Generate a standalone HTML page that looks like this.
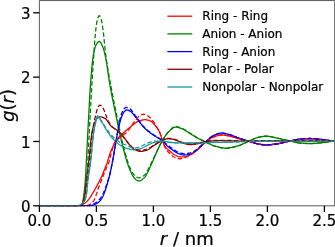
<!DOCTYPE html>
<html><head><meta charset="utf-8"><title>g(r)</title>
<style>html,body{margin:0;padding:0;background:#fff;overflow:hidden}body{width:335px;height:247px;position:relative}</style>
</head><body>
<svg width="335" height="247" viewBox="0 0 335 247" style="display:block;position:absolute;left:0;top:0">
<rect x="0" y="0" width="335" height="247" fill="#fff"/>
<clipPath id="c"><rect x="39.4" y="0" width="295.3" height="206.3"/></clipPath>
<path d="M39.4,0.55 H334.7 V205.8 H39.4 Z" stroke="#000" stroke-width="0.65" fill="none"/>
<g clip-path="url(#c)">
<path d="M39.40,205.80 L39.90,205.80 L40.40,205.80 L40.90,205.80 L41.39,205.80 L41.89,205.80 L42.39,205.80 L42.89,205.80 L43.39,205.80 L43.89,205.80 L44.38,205.80 L44.88,205.80 L45.38,205.80 L45.88,205.80 L46.38,205.80 L46.88,205.80 L47.38,205.80 L47.87,205.80 L48.37,205.80 L48.87,205.80 L49.37,205.80 L49.87,205.80 L50.37,205.80 L50.87,205.80 L51.36,205.80 L51.86,205.80 L52.36,205.80 L52.86,205.80 L53.36,205.80 L53.86,205.80 L54.35,205.80 L54.85,205.80 L55.35,205.80 L55.85,205.80 L56.35,205.80 L56.85,205.80 L57.35,205.80 L57.84,205.80 L58.34,205.80 L58.84,205.80 L59.34,205.80 L59.84,205.80 L60.34,205.80 L60.84,205.80 L61.33,205.80 L61.83,205.80 L62.33,205.80 L62.83,205.80 L63.33,205.80 L63.83,205.80 L64.32,205.80 L64.82,205.80 L65.32,205.80 L65.82,205.80 L66.32,205.80 L66.82,205.80 L67.32,205.80 L67.81,205.80 L68.31,205.80 L68.81,205.80 L69.31,205.80 L69.81,205.80 L70.31,205.80 L70.81,205.80 L71.30,205.80 L71.80,205.80 L72.30,205.80 L72.80,205.80 L73.30,205.80 L73.80,205.80 L74.29,205.80 L74.79,205.80 L75.29,205.80 L75.79,205.80 L76.29,205.80 L76.79,205.80 L77.29,205.80 L77.78,205.80 L78.28,205.80 L78.78,205.80 L79.28,205.79 L79.78,205.70 L80.28,205.56 L80.78,205.38 L81.27,205.19 L81.77,204.98 L82.27,204.71 L82.77,204.39 L83.27,204.06 L83.77,203.72 L84.26,203.39 L84.76,203.05 L85.26,202.69 L85.76,202.32 L86.26,201.92 L86.76,201.50 L87.26,201.04 L87.75,200.54 L88.25,199.96 L88.75,199.33 L89.25,198.64 L89.75,197.90 L90.25,197.14 L90.75,196.34 L91.24,195.54 L91.74,194.72 L92.24,193.92 L92.74,193.12 L93.24,192.30 L93.74,191.47 L94.23,190.63 L94.73,189.76 L95.23,188.89 L95.73,188.00 L96.23,187.09 L96.73,186.18 L97.23,185.26 L97.72,184.33 L98.22,183.40 L98.72,182.46 L99.22,181.51 L99.72,180.54 L100.22,179.56 L100.72,178.54 L101.21,177.50 L101.71,176.42 L102.21,175.29 L102.71,174.08 L103.21,172.82 L103.71,171.54 L104.20,170.25 L104.70,168.99 L105.20,167.77 L105.70,166.55 L106.20,165.31 L106.70,164.02 L107.20,162.65 L107.69,161.14 L108.19,159.46 L108.69,157.71 L109.19,155.99 L109.69,154.39 L110.19,153.00 L110.69,151.71 L111.18,150.47 L111.68,149.28 L112.18,148.16 L112.68,147.08 L113.18,146.06 L113.68,145.10 L114.17,144.19 L114.67,143.30 L115.17,142.45 L115.67,141.63 L116.17,140.84 L116.67,140.08 L117.17,139.36 L117.66,138.67 L118.16,138.01 L118.66,137.40 L119.16,136.82 L119.66,136.27 L120.16,135.76 L120.66,135.27 L121.15,134.80 L121.65,134.35 L122.15,133.91 L122.65,133.49 L123.15,133.07 L123.65,132.65 L124.14,132.23 L124.64,131.81 L125.14,131.38 L125.64,130.94 L126.14,130.51 L126.64,130.08 L127.14,129.66 L127.63,129.24 L128.13,128.82 L128.63,128.40 L129.13,127.99 L129.63,127.59 L130.13,127.19 L130.63,126.79 L131.12,126.40 L131.62,126.00 L132.12,125.59 L132.62,125.17 L133.12,124.75 L133.62,124.34 L134.11,123.93 L134.61,123.53 L135.11,123.15 L135.61,122.80 L136.11,122.47 L136.61,122.18 L137.11,121.92 L137.60,121.71 L138.10,121.51 L138.60,121.31 L139.10,121.11 L139.60,120.92 L140.10,120.74 L140.59,120.56 L141.09,120.40 L141.59,120.25 L142.09,120.11 L142.59,119.99 L143.09,119.89 L143.59,119.80 L144.08,119.74 L144.58,119.71 L145.08,119.70 L145.58,119.72 L146.08,119.77 L146.58,119.84 L147.08,119.93 L147.57,120.04 L148.07,120.17 L148.57,120.32 L149.07,120.48 L149.57,120.65 L150.07,120.84 L150.56,121.03 L151.06,121.27 L151.56,121.59 L152.06,121.99 L152.56,122.44 L153.06,122.94 L153.56,123.49 L154.05,124.07 L154.55,124.68 L155.05,125.30 L155.55,125.93 L156.05,126.56 L156.55,127.20 L157.05,127.87 L157.54,128.58 L158.04,129.34 L158.54,130.16 L159.04,131.05 L159.54,132.02 L160.04,133.08 L160.53,134.44 L161.03,136.10 L161.53,137.86 L162.03,139.54 L162.53,140.93 L163.03,142.20 L163.53,143.40 L164.02,144.51 L164.52,145.48 L165.02,146.28 L165.52,146.95 L166.02,147.57 L166.52,148.13 L167.02,148.64 L167.51,149.12 L168.01,149.57 L168.51,150.00 L169.01,150.42 L169.51,150.83 L170.01,151.26 L170.50,151.68 L171.00,152.11 L171.50,152.53 L172.00,152.95 L172.50,153.34 L173.00,153.73 L173.50,154.09 L173.99,154.42 L174.49,154.73 L174.99,155.00 L175.49,155.25 L175.99,155.51 L176.49,155.77 L176.99,156.02 L177.48,156.26 L177.98,156.47 L178.48,156.64 L178.98,156.78 L179.48,156.87 L179.98,156.90 L180.47,156.90 L180.97,156.90 L181.47,156.90 L181.97,156.90 L182.47,156.90 L182.97,156.90 L183.47,156.90 L183.96,156.90 L184.46,156.90 L184.96,156.90 L185.46,156.87 L185.96,156.79 L186.46,156.66 L186.96,156.48 L187.45,156.28 L187.95,156.04 L188.45,155.79 L188.95,155.54 L189.45,155.28 L189.95,155.03 L190.44,154.77 L190.94,154.49 L191.44,154.19 L191.94,153.87 L192.44,153.53 L192.94,153.17 L193.44,152.80 L193.93,152.42 L194.43,152.03 L194.93,151.64 L195.43,151.25 L195.93,150.85 L196.43,150.46 L196.93,150.06 L197.42,149.65 L197.92,149.22 L198.42,148.79 L198.92,148.35 L199.42,147.90 L199.92,147.45 L200.41,146.99 L200.91,146.53 L201.41,146.06 L201.91,145.59 L202.41,145.10 L202.91,144.58 L203.41,144.05 L203.90,143.51 L204.40,143.00 L204.90,142.51 L205.40,142.06 L205.90,141.67 L206.40,141.28 L206.90,140.90 L207.39,140.54 L207.89,140.18 L208.39,139.83 L208.89,139.49 L209.39,139.17 L209.89,138.86 L210.38,138.56 L210.88,138.28 L211.38,138.02 L211.88,137.78 L212.38,137.55 L212.88,137.35 L213.38,137.16 L213.87,136.96 L214.37,136.77 L214.87,136.58 L215.37,136.39 L215.87,136.21 L216.37,136.04 L216.87,135.87 L217.36,135.71 L217.86,135.56 L218.36,135.43 L218.86,135.31 L219.36,135.21 L219.86,135.13 L220.35,135.06 L220.85,135.02 L221.35,135.00 L221.85,135.00 L222.35,135.02 L222.85,135.05 L223.35,135.09 L223.84,135.14 L224.34,135.20 L224.84,135.27 L225.34,135.35 L225.84,135.43 L226.34,135.51 L226.84,135.60 L227.33,135.69 L227.83,135.79 L228.33,135.88 L228.83,135.97 L229.33,136.06 L229.83,136.16 L230.32,136.27 L230.82,136.39 L231.32,136.52 L231.82,136.66 L232.32,136.80 L232.82,136.94 L233.32,137.09 L233.81,137.25 L234.31,137.40 L234.81,137.56 L235.31,137.71 L235.81,137.86 L236.31,138.02 L236.81,138.16 L237.30,138.31 L237.80,138.45 L238.30,138.58 L238.80,138.71 L239.30,138.84 L239.80,138.97 L240.29,139.10 L240.79,139.23 L241.29,139.35 L241.79,139.48 L242.29,139.60 L242.79,139.73 L243.29,139.85 L243.78,139.98 L244.28,140.10 L244.78,140.23 L245.28,140.35 L245.78,140.48 L246.28,140.61 L246.77,140.74 L247.27,140.86 L247.77,140.99 L248.27,141.12 L248.77,141.26 L249.27,141.39 L249.77,141.53 L250.26,141.68 L250.76,141.83 L251.26,141.98 L251.76,142.14 L252.26,142.29 L252.76,142.45 L253.26,142.60 L253.75,142.75 L254.25,142.90 L254.75,143.04 L255.25,143.18 L255.75,143.31 L256.25,143.44 L256.74,143.55 L257.24,143.66 L257.74,143.75 L258.24,143.84 L258.74,143.93 L259.24,144.02 L259.74,144.10 L260.23,144.19 L260.73,144.27 L261.23,144.35 L261.73,144.43 L262.23,144.50 L262.73,144.57 L263.23,144.63 L263.72,144.68 L264.22,144.73 L264.72,144.76 L265.22,144.79 L265.72,144.80 L266.22,144.80 L266.71,144.79 L267.21,144.78 L267.71,144.76 L268.21,144.73 L268.71,144.70 L269.21,144.67 L269.71,144.63 L270.20,144.58 L270.70,144.53 L271.20,144.48 L271.70,144.43 L272.20,144.37 L272.70,144.31 L273.20,144.25 L273.69,144.19 L274.19,144.13 L274.69,144.06 L275.19,144.00 L275.69,143.94 L276.19,143.88 L276.68,143.81 L277.18,143.74 L277.68,143.66 L278.18,143.57 L278.68,143.48 L279.18,143.39 L279.68,143.29 L280.17,143.19 L280.67,143.08 L281.17,142.98 L281.67,142.87 L282.17,142.75 L282.67,142.64 L283.17,142.52 L283.66,142.40 L284.16,142.29 L284.66,142.17 L285.16,142.05 L285.66,141.93 L286.16,141.82 L286.65,141.70 L287.15,141.59 L287.65,141.48 L288.15,141.37 L288.65,141.27 L289.15,141.16 L289.65,141.07 L290.14,140.97 L290.64,140.88 L291.14,140.78 L291.64,140.68 L292.14,140.58 L292.64,140.48 L293.14,140.38 L293.63,140.28 L294.13,140.18 L294.63,140.09 L295.13,139.99 L295.63,139.90 L296.13,139.81 L296.62,139.72 L297.12,139.64 L297.62,139.57 L298.12,139.50 L298.62,139.44 L299.12,139.38 L299.62,139.33 L300.11,139.29 L300.61,139.25 L301.11,139.22 L301.61,139.18 L302.11,139.14 L302.61,139.11 L303.11,139.07 L303.60,139.04 L304.10,139.01 L304.60,138.98 L305.10,138.95 L305.60,138.92 L306.10,138.90 L306.59,138.88 L307.09,138.86 L307.59,138.84 L308.09,138.82 L308.59,138.81 L309.09,138.81 L309.59,138.80 L310.08,138.80 L310.58,138.80 L311.08,138.81 L311.58,138.83 L312.08,138.84 L312.58,138.87 L313.08,138.89 L313.57,138.92 L314.07,138.96 L314.57,138.99 L315.07,139.03 L315.57,139.07 L316.07,139.12 L316.56,139.16 L317.06,139.21 L317.56,139.26 L318.06,139.31 L318.56,139.36 L319.06,139.41 L319.56,139.46 L320.05,139.51 L320.55,139.56 L321.05,139.61 L321.55,139.66 L322.05,139.70 L322.55,139.75 L323.05,139.80 L323.54,139.86 L324.04,139.92 L324.54,139.97 L325.04,140.04 L325.54,140.10 L326.04,140.16 L326.53,140.23 L327.03,140.29 L327.53,140.36 L328.03,140.43 L328.53,140.49 L329.03,140.56 L329.53,140.63 L330.02,140.69 L330.52,140.76 L331.02,140.82 L331.52,140.88 L332.02,140.94 L332.52,141.00 L333.02,141.05 L333.51,141.10 L334.01,141.15 L334.51,141.20 L335.01,141.24 L335.51,141.29 L336.01,141.33 L336.50,141.38 L337.00,141.42 L337.50,141.46 L338.00,141.50" fill="none" stroke="#ff0000" stroke-width="1.3" stroke-linejoin="round"/>
<path d="M39.40,205.80 L39.90,205.80 L40.40,205.80 L40.90,205.80 L41.39,205.80 L41.89,205.80 L42.39,205.80 L42.89,205.80 L43.39,205.80 L43.89,205.80 L44.38,205.80 L44.88,205.80 L45.38,205.80 L45.88,205.80 L46.38,205.80 L46.88,205.80 L47.38,205.80 L47.87,205.80 L48.37,205.80 L48.87,205.80 L49.37,205.80 L49.87,205.80 L50.37,205.80 L50.87,205.80 L51.36,205.80 L51.86,205.80 L52.36,205.80 L52.86,205.80 L53.36,205.80 L53.86,205.80 L54.35,205.80 L54.85,205.80 L55.35,205.80 L55.85,205.80 L56.35,205.80 L56.85,205.80 L57.35,205.80 L57.84,205.80 L58.34,205.80 L58.84,205.80 L59.34,205.80 L59.84,205.80 L60.34,205.80 L60.84,205.80 L61.33,205.80 L61.83,205.80 L62.33,205.80 L62.83,205.80 L63.33,205.80 L63.83,205.80 L64.32,205.80 L64.82,205.80 L65.32,205.80 L65.82,205.80 L66.32,205.80 L66.82,205.80 L67.32,205.80 L67.81,205.80 L68.31,205.80 L68.81,205.80 L69.31,205.80 L69.81,205.80 L70.31,205.80 L70.81,205.80 L71.30,205.80 L71.80,205.80 L72.30,205.80 L72.80,205.80 L73.30,205.80 L73.80,205.80 L74.29,205.80 L74.79,205.80 L75.29,205.80 L75.79,205.80 L76.29,205.80 L76.79,205.80 L77.29,205.80 L77.78,205.80 L78.28,205.80 L78.78,205.79 L79.28,205.71 L79.78,205.57 L80.28,205.39 L80.78,205.15 L81.27,204.67 L81.77,203.96 L82.27,203.01 L82.77,201.61 L83.27,198.86 L83.77,195.27 L84.26,191.39 L84.76,186.72 L85.26,180.99 L85.76,173.26 L86.26,163.50 L86.76,153.28 L87.26,143.62 L87.75,133.81 L88.25,124.07 L88.75,114.66 L89.25,105.08 L89.75,95.79 L90.25,87.65 L90.75,80.95 L91.24,74.67 L91.74,68.87 L92.24,63.70 L92.74,59.31 L93.24,55.86 L93.74,53.14 L94.23,50.72 L94.73,48.61 L95.23,46.87 L95.73,45.54 L96.23,44.61 L96.73,43.79 L97.23,43.04 L97.72,42.40 L98.22,41.89 L98.72,41.55 L99.22,41.40 L99.72,41.53 L100.22,41.97 L100.72,42.67 L101.21,43.55 L101.71,44.56 L102.21,45.60 L102.71,46.70 L103.21,48.05 L103.71,49.65 L104.20,51.45 L104.70,53.42 L105.20,55.51 L105.70,57.87 L106.20,60.62 L106.70,63.68 L107.20,66.96 L107.69,70.37 L108.19,73.84 L108.69,77.27 L109.19,80.58 L109.69,83.70 L110.19,86.54 L110.69,89.26 L111.18,91.91 L111.68,94.50 L112.18,97.04 L112.68,99.53 L113.18,101.99 L113.68,104.42 L114.17,106.82 L114.67,109.22 L115.17,111.60 L115.67,113.99 L116.17,116.38 L116.67,118.79 L117.17,121.22 L117.66,123.64 L118.16,126.06 L118.66,128.47 L119.16,130.84 L119.66,133.18 L120.16,135.47 L120.66,137.71 L121.15,139.88 L121.65,141.98 L122.15,144.05 L122.65,146.07 L123.15,148.06 L123.65,149.99 L124.14,151.87 L124.64,153.69 L125.14,155.45 L125.64,157.16 L126.14,158.85 L126.64,160.52 L127.14,162.13 L127.63,163.68 L128.13,165.16 L128.63,166.55 L129.13,167.83 L129.63,169.04 L130.13,170.24 L130.63,171.42 L131.12,172.57 L131.62,173.66 L132.12,174.69 L132.62,175.63 L133.12,176.48 L133.62,177.21 L134.11,177.81 L134.61,178.30 L135.11,178.77 L135.61,179.22 L136.11,179.65 L136.61,180.03 L137.11,180.37 L137.60,180.64 L138.10,180.85 L138.60,180.97 L139.10,181.00 L139.60,180.94 L140.10,180.80 L140.59,180.60 L141.09,180.33 L141.59,180.01 L142.09,179.64 L142.59,179.24 L143.09,178.81 L143.59,178.36 L144.08,177.89 L144.58,177.42 L145.08,176.86 L145.58,176.18 L146.08,175.39 L146.58,174.52 L147.08,173.56 L147.57,172.54 L148.07,171.48 L148.57,170.39 L149.07,169.28 L149.57,168.16 L150.07,167.06 L150.56,165.99 L151.06,164.95 L151.56,163.88 L152.06,162.78 L152.56,161.65 L153.06,160.51 L153.56,159.35 L154.05,158.19 L154.55,157.02 L155.05,155.86 L155.55,154.71 L156.05,153.58 L156.55,152.48 L157.05,151.40 L157.54,150.34 L158.04,149.26 L158.54,148.19 L159.04,147.12 L159.54,146.06 L160.04,145.03 L160.53,144.02 L161.03,143.05 L161.53,142.11 L162.03,141.22 L162.53,140.39 L163.03,139.57 L163.53,138.76 L164.02,137.97 L164.52,137.19 L165.02,136.43 L165.52,135.70 L166.02,134.99 L166.52,134.31 L167.02,133.67 L167.51,133.06 L168.01,132.49 L168.51,131.97 L169.01,131.49 L169.51,131.03 L170.01,130.56 L170.50,130.10 L171.00,129.63 L171.50,129.19 L172.00,128.76 L172.50,128.37 L173.00,128.02 L173.50,127.71 L173.99,127.46 L174.49,127.26 L174.99,127.14 L175.49,127.10 L175.99,127.12 L176.49,127.16 L176.99,127.23 L177.48,127.33 L177.98,127.45 L178.48,127.58 L178.98,127.73 L179.48,127.89 L179.98,128.07 L180.47,128.24 L180.97,128.43 L181.47,128.61 L181.97,128.79 L182.47,128.98 L182.97,129.20 L183.47,129.43 L183.96,129.69 L184.46,129.97 L184.96,130.26 L185.46,130.57 L185.96,130.89 L186.46,131.21 L186.96,131.54 L187.45,131.87 L187.95,132.20 L188.45,132.53 L188.95,132.85 L189.45,133.16 L189.95,133.47 L190.44,133.77 L190.94,134.07 L191.44,134.37 L191.94,134.68 L192.44,134.99 L192.94,135.30 L193.44,135.61 L193.93,135.92 L194.43,136.23 L194.93,136.54 L195.43,136.84 L195.93,137.14 L196.43,137.43 L196.93,137.71 L197.42,137.99 L197.92,138.26 L198.42,138.52 L198.92,138.78 L199.42,139.03 L199.92,139.27 L200.41,139.51 L200.91,139.75 L201.41,139.98 L201.91,140.22 L202.41,140.45 L202.91,140.67 L203.41,140.90 L203.90,141.13 L204.40,141.35 L204.90,141.58 L205.40,141.81 L205.90,142.04 L206.40,142.28 L206.90,142.52 L207.39,142.77 L207.89,143.02 L208.39,143.27 L208.89,143.53 L209.39,143.78 L209.89,144.03 L210.38,144.28 L210.88,144.52 L211.38,144.75 L211.88,144.97 L212.38,145.19 L212.88,145.39 L213.38,145.58 L213.87,145.76 L214.37,145.92 L214.87,146.07 L215.37,146.20 L215.87,146.33 L216.37,146.46 L216.87,146.59 L217.36,146.72 L217.86,146.85 L218.36,146.97 L218.86,147.09 L219.36,147.21 L219.86,147.32 L220.35,147.43 L220.85,147.53 L221.35,147.63 L221.85,147.72 L222.35,147.80 L222.85,147.87 L223.35,147.93 L223.84,147.99 L224.34,148.03 L224.84,148.07 L225.34,148.09 L225.84,148.10 L226.34,148.10 L226.84,148.08 L227.33,148.05 L227.83,148.02 L228.33,147.97 L228.83,147.91 L229.33,147.84 L229.83,147.76 L230.32,147.68 L230.82,147.58 L231.32,147.48 L231.82,147.38 L232.32,147.27 L232.82,147.15 L233.32,147.03 L233.81,146.91 L234.31,146.79 L234.81,146.66 L235.31,146.53 L235.81,146.40 L236.31,146.28 L236.81,146.15 L237.30,146.02 L237.80,145.88 L238.30,145.73 L238.80,145.56 L239.30,145.39 L239.80,145.21 L240.29,145.01 L240.79,144.81 L241.29,144.60 L241.79,144.39 L242.29,144.17 L242.79,143.95 L243.29,143.72 L243.78,143.49 L244.28,143.26 L244.78,143.02 L245.28,142.79 L245.78,142.56 L246.28,142.33 L246.77,142.10 L247.27,141.88 L247.77,141.66 L248.27,141.45 L248.77,141.24 L249.27,141.03 L249.77,140.82 L250.26,140.59 L250.76,140.37 L251.26,140.13 L251.76,139.90 L252.26,139.67 L252.76,139.44 L253.26,139.21 L253.75,138.99 L254.25,138.77 L254.75,138.56 L255.25,138.36 L255.75,138.17 L256.25,137.99 L256.74,137.83 L257.24,137.69 L257.74,137.56 L258.24,137.45 L258.74,137.34 L259.24,137.23 L259.74,137.12 L260.23,137.01 L260.73,136.91 L261.23,136.81 L261.73,136.72 L262.23,136.63 L262.73,136.55 L263.23,136.48 L263.72,136.41 L264.22,136.36 L264.72,136.31 L265.22,136.28 L265.72,136.26 L266.22,136.25 L266.71,136.26 L267.21,136.28 L267.71,136.31 L268.21,136.36 L268.71,136.42 L269.21,136.49 L269.71,136.57 L270.20,136.66 L270.70,136.76 L271.20,136.86 L271.70,136.96 L272.20,137.07 L272.70,137.19 L273.20,137.30 L273.69,137.41 L274.19,137.52 L274.69,137.63 L275.19,137.74 L275.69,137.84 L276.19,137.94 L276.68,138.03 L277.18,138.13 L277.68,138.23 L278.18,138.34 L278.68,138.44 L279.18,138.55 L279.68,138.66 L280.17,138.77 L280.67,138.88 L281.17,139.00 L281.67,139.11 L282.17,139.22 L282.67,139.34 L283.17,139.45 L283.66,139.57 L284.16,139.69 L284.66,139.80 L285.16,139.92 L285.66,140.03 L286.16,140.15 L286.65,140.26 L287.15,140.38 L287.65,140.49 L288.15,140.60 L288.65,140.71 L289.15,140.82 L289.65,140.93 L290.14,141.03 L290.64,141.14 L291.14,141.25 L291.64,141.37 L292.14,141.48 L292.64,141.60 L293.14,141.72 L293.63,141.84 L294.13,141.96 L294.63,142.08 L295.13,142.19 L295.63,142.30 L296.13,142.41 L296.62,142.51 L297.12,142.61 L297.62,142.69 L298.12,142.78 L298.62,142.85 L299.12,142.91 L299.62,142.97 L300.11,143.01 L300.61,143.05 L301.11,143.09 L301.61,143.13 L302.11,143.16 L302.61,143.20 L303.11,143.23 L303.60,143.27 L304.10,143.30 L304.60,143.33 L305.10,143.36 L305.60,143.38 L306.10,143.41 L306.59,143.43 L307.09,143.45 L307.59,143.46 L308.09,143.48 L308.59,143.49 L309.09,143.49 L309.59,143.50 L310.08,143.50 L310.58,143.50 L311.08,143.49 L311.58,143.48 L312.08,143.46 L312.58,143.44 L313.08,143.42 L313.57,143.40 L314.07,143.37 L314.57,143.34 L315.07,143.30 L315.57,143.27 L316.07,143.23 L316.56,143.19 L317.06,143.15 L317.56,143.11 L318.06,143.06 L318.56,143.02 L319.06,142.97 L319.56,142.93 L320.05,142.88 L320.55,142.83 L321.05,142.79 L321.55,142.74 L322.05,142.70 L322.55,142.65 L323.05,142.59 L323.54,142.54 L324.04,142.47 L324.54,142.41 L325.04,142.34 L325.54,142.26 L326.04,142.19 L326.53,142.11 L327.03,142.04 L327.53,141.96 L328.03,141.88 L328.53,141.80 L329.03,141.72 L329.53,141.64 L330.02,141.56 L330.52,141.49 L331.02,141.41 L331.52,141.34 L332.02,141.28 L332.52,141.21 L333.02,141.15 L333.51,141.10 L334.01,141.05 L334.51,141.00 L335.01,140.95 L335.51,140.90 L336.01,140.86 L336.50,140.82 L337.00,140.78 L337.50,140.74 L338.00,140.70" fill="none" stroke="#008000" stroke-width="1.3" stroke-linejoin="round"/>
<path d="M39.40,205.80 L39.90,205.80 L40.40,205.80 L40.90,205.80 L41.39,205.80 L41.89,205.80 L42.39,205.80 L42.89,205.80 L43.39,205.80 L43.89,205.80 L44.38,205.80 L44.88,205.80 L45.38,205.80 L45.88,205.80 L46.38,205.80 L46.88,205.80 L47.38,205.80 L47.87,205.80 L48.37,205.80 L48.87,205.80 L49.37,205.80 L49.87,205.80 L50.37,205.80 L50.87,205.80 L51.36,205.80 L51.86,205.80 L52.36,205.80 L52.86,205.80 L53.36,205.80 L53.86,205.80 L54.35,205.80 L54.85,205.80 L55.35,205.80 L55.85,205.80 L56.35,205.80 L56.85,205.80 L57.35,205.80 L57.84,205.80 L58.34,205.80 L58.84,205.80 L59.34,205.80 L59.84,205.80 L60.34,205.80 L60.84,205.80 L61.33,205.80 L61.83,205.80 L62.33,205.80 L62.83,205.80 L63.33,205.80 L63.83,205.80 L64.32,205.80 L64.82,205.80 L65.32,205.80 L65.82,205.80 L66.32,205.80 L66.82,205.80 L67.32,205.80 L67.81,205.80 L68.31,205.80 L68.81,205.80 L69.31,205.80 L69.81,205.80 L70.31,205.80 L70.81,205.80 L71.30,205.80 L71.80,205.80 L72.30,205.80 L72.80,205.80 L73.30,205.80 L73.80,205.80 L74.29,205.80 L74.79,205.80 L75.29,205.80 L75.79,205.80 L76.29,205.80 L76.79,205.80 L77.29,205.80 L77.78,205.80 L78.28,205.80 L78.78,205.80 L79.28,205.80 L79.78,205.80 L80.28,205.80 L80.78,205.80 L81.27,205.80 L81.77,205.80 L82.27,205.80 L82.77,205.80 L83.27,205.80 L83.77,205.80 L84.26,205.80 L84.76,205.80 L85.26,205.80 L85.76,205.80 L86.26,205.80 L86.76,205.80 L87.26,205.80 L87.75,205.80 L88.25,205.80 L88.75,205.80 L89.25,205.80 L89.75,205.80 L90.25,205.79 L90.75,205.72 L91.24,205.59 L91.74,205.44 L92.24,205.28 L92.74,205.13 L93.24,204.97 L93.74,204.80 L94.23,204.61 L94.73,204.40 L95.23,204.18 L95.73,203.95 L96.23,203.71 L96.73,203.45 L97.23,203.16 L97.72,202.85 L98.22,202.50 L98.72,202.12 L99.22,201.69 L99.72,201.17 L100.22,200.58 L100.72,199.93 L101.21,199.21 L101.71,198.43 L102.21,197.60 L102.71,196.71 L103.21,195.67 L103.71,194.47 L104.20,193.18 L104.70,191.82 L105.20,190.43 L105.70,188.96 L106.20,187.41 L106.70,185.78 L107.20,184.11 L107.69,182.40 L108.19,180.68 L108.69,178.94 L109.19,177.12 L109.69,175.14 L110.19,172.98 L110.69,170.69 L111.18,168.28 L111.68,165.78 L112.18,163.22 L112.68,160.61 L113.18,157.91 L113.68,155.06 L114.17,152.13 L114.67,149.16 L115.17,146.21 L115.67,143.33 L116.17,140.58 L116.67,137.85 L117.17,135.16 L117.66,132.55 L118.16,130.07 L118.66,127.77 L119.16,125.53 L119.66,123.36 L120.16,121.34 L120.66,119.56 L121.15,118.07 L121.65,116.70 L122.15,115.42 L122.65,114.26 L123.15,113.26 L123.65,112.44 L124.14,111.84 L124.64,111.31 L125.14,110.83 L125.64,110.41 L126.14,110.10 L126.64,109.93 L127.14,109.91 L127.63,109.99 L128.13,110.13 L128.63,110.33 L129.13,110.56 L129.63,110.81 L130.13,111.07 L130.63,111.39 L131.12,111.79 L131.62,112.26 L132.12,112.79 L132.62,113.37 L133.12,113.98 L133.62,114.63 L134.11,115.28 L134.61,115.94 L135.11,116.59 L135.61,117.23 L136.11,117.83 L136.61,118.42 L137.11,119.02 L137.60,119.63 L138.10,120.25 L138.60,120.88 L139.10,121.52 L139.60,122.16 L140.10,122.80 L140.59,123.44 L141.09,124.08 L141.59,124.70 L142.09,125.31 L142.59,125.91 L143.09,126.49 L143.59,127.05 L144.08,127.58 L144.58,128.10 L145.08,128.58 L145.58,129.04 L146.08,129.49 L146.58,129.93 L147.08,130.36 L147.57,130.77 L148.07,131.18 L148.57,131.58 L149.07,131.97 L149.57,132.35 L150.07,132.72 L150.56,133.09 L151.06,133.45 L151.56,133.81 L152.06,134.16 L152.56,134.51 L153.06,134.85 L153.56,135.20 L154.05,135.54 L154.55,135.86 L155.05,136.18 L155.55,136.47 L156.05,136.76 L156.55,137.03 L157.05,137.30 L157.54,137.57 L158.04,137.84 L158.54,138.11 L159.04,138.38 L159.54,138.67 L160.04,138.96 L160.53,139.27 L161.03,139.60 L161.53,139.94 L162.03,140.31 L162.53,140.71 L163.03,141.16 L163.53,141.68 L164.02,142.25 L164.52,142.84 L165.02,143.46 L165.52,144.07 L166.02,144.68 L166.52,145.25 L167.02,145.79 L167.51,146.26 L168.01,146.70 L168.51,147.11 L169.01,147.51 L169.51,147.90 L170.01,148.27 L170.50,148.63 L171.00,148.98 L171.50,149.33 L172.00,149.66 L172.50,150.00 L173.00,150.34 L173.50,150.68 L173.99,151.03 L174.49,151.38 L174.99,151.72 L175.49,152.06 L175.99,152.38 L176.49,152.69 L176.99,152.97 L177.48,153.23 L177.98,153.46 L178.48,153.66 L178.98,153.82 L179.48,153.98 L179.98,154.14 L180.47,154.30 L180.97,154.44 L181.47,154.58 L181.97,154.70 L182.47,154.80 L182.97,154.89 L183.47,154.95 L183.96,154.99 L184.46,155.00 L184.96,154.99 L185.46,154.97 L185.96,154.94 L186.46,154.90 L186.96,154.85 L187.45,154.80 L187.95,154.73 L188.45,154.66 L188.95,154.58 L189.45,154.50 L189.95,154.41 L190.44,154.30 L190.94,154.14 L191.44,153.93 L191.94,153.68 L192.44,153.39 L192.94,153.08 L193.44,152.74 L193.93,152.38 L194.43,152.00 L194.93,151.62 L195.43,151.23 L195.93,150.85 L196.43,150.46 L196.93,150.05 L197.42,149.59 L197.92,149.11 L198.42,148.60 L198.92,148.07 L199.42,147.53 L199.92,147.00 L200.41,146.47 L200.91,145.95 L201.41,145.46 L201.91,144.99 L202.41,144.55 L202.91,144.12 L203.41,143.70 L203.90,143.29 L204.40,142.88 L204.90,142.48 L205.40,142.07 L205.90,141.65 L206.40,141.21 L206.90,140.76 L207.39,140.30 L207.89,139.83 L208.39,139.36 L208.89,138.90 L209.39,138.44 L209.89,137.99 L210.38,137.57 L210.88,137.16 L211.38,136.78 L211.88,136.44 L212.38,136.13 L212.88,135.86 L213.38,135.62 L213.87,135.39 L214.37,135.15 L214.87,134.92 L215.37,134.69 L215.87,134.47 L216.37,134.26 L216.87,134.06 L217.36,133.88 L217.86,133.70 L218.36,133.55 L218.86,133.42 L219.36,133.30 L219.86,133.21 L220.35,133.15 L220.85,133.11 L221.35,133.10 L221.85,133.11 L222.35,133.14 L222.85,133.19 L223.35,133.25 L223.84,133.33 L224.34,133.41 L224.84,133.51 L225.34,133.61 L225.84,133.73 L226.34,133.84 L226.84,133.96 L227.33,134.09 L227.83,134.21 L228.33,134.34 L228.83,134.46 L229.33,134.58 L229.83,134.72 L230.32,134.87 L230.82,135.03 L231.32,135.20 L231.82,135.38 L232.32,135.57 L232.82,135.76 L233.32,135.96 L233.81,136.16 L234.31,136.37 L234.81,136.57 L235.31,136.77 L235.81,136.97 L236.31,137.17 L236.81,137.37 L237.30,137.55 L237.80,137.73 L238.30,137.90 L238.80,138.07 L239.30,138.24 L239.80,138.41 L240.29,138.57 L240.79,138.74 L241.29,138.90 L241.79,139.06 L242.29,139.22 L242.79,139.38 L243.29,139.54 L243.78,139.70 L244.28,139.86 L244.78,140.02 L245.28,140.17 L245.78,140.33 L246.28,140.48 L246.77,140.64 L247.27,140.79 L247.77,140.95 L248.27,141.10 L248.77,141.26 L249.27,141.41 L249.77,141.57 L250.26,141.74 L250.76,141.90 L251.26,142.07 L251.76,142.24 L252.26,142.41 L252.76,142.58 L253.26,142.74 L253.75,142.90 L254.25,143.06 L254.75,143.21 L255.25,143.36 L255.75,143.49 L256.25,143.62 L256.74,143.74 L257.24,143.85 L257.74,143.95 L258.24,144.04 L258.74,144.13 L259.24,144.22 L259.74,144.31 L260.23,144.39 L260.73,144.48 L261.23,144.56 L261.73,144.63 L262.23,144.71 L262.73,144.77 L263.23,144.83 L263.72,144.88 L264.22,144.93 L264.72,144.96 L265.22,144.99 L265.72,145.00 L266.22,145.00 L266.71,144.99 L267.21,144.98 L267.71,144.96 L268.21,144.94 L268.71,144.90 L269.21,144.87 L269.71,144.83 L270.20,144.78 L270.70,144.74 L271.20,144.69 L271.70,144.63 L272.20,144.57 L272.70,144.51 L273.20,144.45 L273.69,144.39 L274.19,144.33 L274.69,144.27 L275.19,144.20 L275.69,144.14 L276.19,144.08 L276.68,144.01 L277.18,143.93 L277.68,143.85 L278.18,143.76 L278.68,143.67 L279.18,143.57 L279.68,143.47 L280.17,143.36 L280.67,143.25 L281.17,143.13 L281.67,143.01 L282.17,142.89 L282.67,142.77 L283.17,142.65 L283.66,142.52 L284.16,142.39 L284.66,142.27 L285.16,142.14 L285.66,142.01 L286.16,141.89 L286.65,141.76 L287.15,141.64 L287.65,141.52 L288.15,141.41 L288.65,141.29 L289.15,141.18 L289.65,141.07 L290.14,140.97 L290.64,140.87 L291.14,140.76 L291.64,140.65 L292.14,140.54 L292.64,140.43 L293.14,140.32 L293.63,140.21 L294.13,140.10 L294.63,139.99 L295.13,139.88 L295.63,139.78 L296.13,139.68 L296.62,139.58 L297.12,139.49 L297.62,139.41 L298.12,139.33 L298.62,139.26 L299.12,139.19 L299.62,139.14 L300.11,139.09 L300.61,139.04 L301.11,139.00 L301.61,138.96 L302.11,138.91 L302.61,138.87 L303.11,138.83 L303.60,138.79 L304.10,138.75 L304.60,138.71 L305.10,138.68 L305.60,138.65 L306.10,138.62 L306.59,138.59 L307.09,138.57 L307.59,138.55 L308.09,138.53 L308.59,138.52 L309.09,138.51 L309.59,138.50 L310.08,138.50 L310.58,138.50 L311.08,138.51 L311.58,138.53 L312.08,138.55 L312.58,138.57 L313.08,138.60 L313.57,138.64 L314.07,138.67 L314.57,138.71 L315.07,138.76 L315.57,138.80 L316.07,138.85 L316.56,138.90 L317.06,138.95 L317.56,139.01 L318.06,139.06 L318.56,139.12 L319.06,139.17 L319.56,139.23 L320.05,139.29 L320.55,139.34 L321.05,139.40 L321.55,139.45 L322.05,139.51 L322.55,139.56 L323.05,139.62 L323.54,139.68 L324.04,139.75 L324.54,139.81 L325.04,139.89 L325.54,139.96 L326.04,140.03 L326.53,140.11 L327.03,140.19 L327.53,140.26 L328.03,140.34 L328.53,140.42 L329.03,140.50 L329.53,140.57 L330.02,140.65 L330.52,140.72 L331.02,140.79 L331.52,140.86 L332.02,140.93 L332.52,140.99 L333.02,141.05 L333.51,141.10 L334.01,141.15 L334.51,141.20 L335.01,141.25 L335.51,141.30 L336.01,141.34 L336.50,141.38 L337.00,141.42 L337.50,141.46 L338.00,141.50" fill="none" stroke="#0000ff" stroke-width="1.3" stroke-linejoin="round"/>
<path d="M39.40,205.80 L39.90,205.80 L40.39,205.80 L40.89,205.80 L41.38,205.80 L41.88,205.80 L42.37,205.80 L42.87,205.80 L43.36,205.80 L43.86,205.80 L44.35,205.80 L44.85,205.80 L45.34,205.80 L45.84,205.80 L46.33,205.80 L46.83,205.80 L47.32,205.80 L47.82,205.80 L48.31,205.80 L48.81,205.80 L49.30,205.80 L49.80,205.80 L50.29,205.80 L50.79,205.80 L51.28,205.80 L51.78,205.80 L52.27,205.80 L52.77,205.80 L53.26,205.80 L53.76,205.80 L54.25,205.80 L54.75,205.80 L55.25,205.80 L55.74,205.80 L56.24,205.80 L56.73,205.80 L57.23,205.80 L57.72,205.80 L58.22,205.80 L58.71,205.80 L59.21,205.80 L59.70,205.80 L60.20,205.80 L60.69,205.80 L61.19,205.80 L61.68,205.80 L62.18,205.80 L62.67,205.80 L63.17,205.80 L63.66,205.80 L64.16,205.80 L64.65,205.80 L65.15,205.80 L65.64,205.80 L66.14,205.80 L66.63,205.80 L67.13,205.80 L67.62,205.80 L68.12,205.80 L68.61,205.80 L69.11,205.80 L69.60,205.80 L70.10,205.80 L70.59,205.80 L71.09,205.80 L71.59,205.80 L72.08,205.80 L72.58,205.80 L73.07,205.80 L73.57,205.80 L74.06,205.80 L74.56,205.80 L75.05,205.80 L75.55,205.80 L76.04,205.80 L76.54,205.80 L77.03,205.80 L77.53,205.80 L78.02,205.80 L78.52,205.80 L79.01,205.80 L79.51,205.76 L80.00,205.69 L80.50,205.57 L80.99,205.42 L81.49,205.14 L81.98,204.22 L82.48,203.11 L82.97,201.95 L83.47,200.59 L83.96,198.90 L84.46,196.66 L84.95,192.78 L85.45,187.80 L85.94,182.77 L86.44,178.58 L86.94,174.83 L87.43,171.25 L87.93,167.67 L88.42,163.93 L88.92,159.80 L89.41,155.09 L89.91,150.06 L90.40,145.00 L90.90,140.22 L91.39,135.99 L91.89,132.62 L92.38,130.22 L92.88,128.18 L93.37,126.38 L93.87,124.81 L94.36,123.45 L94.86,122.27 L95.35,121.24 L95.85,120.27 L96.34,119.39 L96.84,118.65 L97.33,118.08 L97.83,117.72 L98.32,117.44 L98.82,117.20 L99.31,117.00 L99.81,116.86 L100.30,116.80 L100.80,116.83 L101.29,116.92 L101.79,117.06 L102.29,117.23 L102.78,117.42 L103.28,117.61 L103.77,117.83 L104.27,118.08 L104.76,118.37 L105.26,118.70 L105.75,119.06 L106.25,119.46 L106.74,120.00 L107.24,120.65 L107.73,121.38 L108.23,122.16 L108.72,122.96 L109.22,123.76 L109.71,124.52 L110.21,125.21 L110.70,125.80 L111.20,126.28 L111.69,126.69 L112.19,127.06 L112.68,127.40 L113.18,127.72 L113.67,128.03 L114.17,128.33 L114.66,128.63 L115.16,128.94 L115.65,129.26 L116.15,129.61 L116.64,129.95 L117.14,130.29 L117.64,130.63 L118.13,130.98 L118.63,131.35 L119.12,131.74 L119.62,132.15 L120.11,132.60 L120.61,133.11 L121.10,133.66 L121.60,134.26 L122.09,134.89 L122.59,135.55 L123.08,136.22 L123.58,136.90 L124.07,137.57 L124.57,138.24 L125.06,138.88 L125.56,139.53 L126.05,140.20 L126.55,140.88 L127.04,141.57 L127.54,142.25 L128.03,142.92 L128.53,143.56 L129.02,144.19 L129.52,144.77 L130.01,145.31 L130.51,145.84 L131.00,146.36 L131.50,146.88 L131.99,147.38 L132.49,147.86 L132.98,148.31 L133.48,148.73 L133.98,149.10 L134.47,149.42 L134.97,149.68 L135.46,149.91 L135.96,150.14 L136.45,150.36 L136.95,150.56 L137.44,150.76 L137.94,150.93 L138.43,151.08 L138.93,151.21 L139.42,151.31 L139.92,151.37 L140.41,151.40 L140.91,151.39 L141.40,151.36 L141.90,151.32 L142.39,151.25 L142.89,151.17 L143.38,151.08 L143.88,150.97 L144.37,150.85 L144.87,150.72 L145.36,150.59 L145.86,150.44 L146.35,150.30 L146.85,150.15 L147.34,149.98 L147.84,149.77 L148.33,149.51 L148.83,149.22 L149.33,148.89 L149.82,148.54 L150.32,148.17 L150.81,147.78 L151.31,147.39 L151.80,147.00 L152.30,146.61 L152.79,146.23 L153.29,145.87 L153.78,145.54 L154.28,145.23 L154.77,144.92 L155.27,144.61 L155.76,144.30 L156.26,143.99 L156.75,143.69 L157.25,143.38 L157.74,143.08 L158.24,142.79 L158.73,142.49 L159.23,142.21 L159.72,141.93 L160.22,141.66 L160.71,141.40 L161.21,141.15 L161.70,140.92 L162.20,140.69 L162.69,140.47 L163.19,140.23 L163.68,139.99 L164.18,139.75 L164.68,139.52 L165.17,139.30 L165.67,139.11 L166.16,138.95 L166.66,138.83 L167.15,138.77 L167.65,138.75 L168.14,138.76 L168.64,138.78 L169.13,138.81 L169.63,138.85 L170.12,138.89 L170.62,138.94 L171.11,139.00 L171.61,139.05 L172.10,139.11 L172.60,139.19 L173.09,139.29 L173.59,139.41 L174.08,139.55 L174.58,139.70 L175.07,139.87 L175.57,140.05 L176.06,140.23 L176.56,140.42 L177.05,140.61 L177.55,140.80 L178.04,140.99 L178.54,141.17 L179.03,141.35 L179.53,141.55 L180.03,141.76 L180.52,141.98 L181.02,142.20 L181.51,142.43 L182.01,142.65 L182.50,142.87 L183.00,143.08 L183.49,143.28 L183.99,143.46 L184.48,143.61 L184.98,143.74 L185.47,143.86 L185.97,143.98 L186.46,144.10 L186.96,144.21 L187.45,144.31 L187.95,144.40 L188.44,144.48 L188.94,144.54 L189.43,144.58 L189.93,144.60 L190.42,144.60 L190.92,144.58 L191.41,144.55 L191.91,144.51 L192.40,144.47 L192.90,144.41 L193.39,144.36 L193.89,144.29 L194.38,144.23 L194.88,144.16 L195.37,144.09 L195.87,144.02 L196.37,143.95 L196.86,143.86 L197.36,143.77 L197.85,143.67 L198.35,143.56 L198.84,143.44 L199.34,143.32 L199.83,143.20 L200.33,143.08 L200.82,142.96 L201.32,142.85 L201.81,142.74 L202.31,142.63 L202.80,142.52 L203.30,142.41 L203.79,142.29 L204.29,142.17 L204.78,142.05 L205.28,141.93 L205.77,141.81 L206.27,141.70 L206.76,141.59 L207.26,141.49 L207.75,141.39 L208.25,141.31 L208.74,141.23 L209.24,141.17 L209.73,141.12 L210.23,141.08 L210.72,141.05 L211.22,141.02 L211.72,140.99 L212.21,140.96 L212.71,140.93 L213.20,140.90 L213.70,140.88 L214.19,140.85 L214.69,140.83 L215.18,140.81 L215.68,140.79 L216.17,140.77 L216.67,140.75 L217.16,140.74 L217.66,140.73 L218.15,140.72 L218.65,140.71 L219.14,140.70 L219.64,140.70 L220.13,140.70 L220.63,140.70 L221.12,140.70 L221.62,140.71 L222.11,140.71 L222.61,140.71 L223.10,140.72 L223.60,140.73 L224.09,140.73 L224.59,140.74 L225.08,140.75 L225.58,140.76 L226.07,140.77 L226.57,140.78 L227.07,140.79 L227.56,140.80 L228.06,140.81 L228.55,140.82 L229.05,140.83 L229.54,140.84 L230.04,140.85 L230.53,140.87 L231.03,140.88 L231.52,140.89 L232.02,140.90 L232.51,140.91 L233.01,140.93 L233.50,140.95 L234.00,140.96 L234.49,140.99 L234.99,141.01 L235.48,141.03 L235.98,141.06 L236.47,141.08 L236.97,141.11 L237.46,141.13 L237.96,141.16 L238.45,141.19 L238.95,141.21 L239.44,141.24 L239.94,141.26 L240.43,141.28 L240.93,141.30 L241.42,141.32 L241.92,141.34 L242.42,141.36 L242.91,141.37 L243.41,141.38 L243.90,141.39 L244.40,141.40 L244.89,141.40 L245.39,141.40 L245.88,141.40 L246.38,141.39 L246.87,141.39 L247.37,141.38 L247.86,141.38 L248.36,141.37 L248.85,141.36 L249.35,141.35 L249.84,141.34 L250.34,141.33 L250.83,141.31 L251.33,141.30 L251.82,141.29 L252.32,141.27 L252.81,141.26 L253.31,141.25 L253.80,141.23 L254.30,141.22 L254.79,141.21 L255.29,141.19 L255.78,141.18 L256.28,141.17 L256.77,141.16 L257.27,141.14 L257.76,141.13 L258.26,141.12 L258.76,141.12 L259.25,141.11 L259.75,141.10 L260.24,141.10 L260.74,141.09 L261.23,141.09 L261.73,141.08 L262.22,141.08 L262.72,141.07 L263.21,141.07 L263.71,141.06 L264.20,141.06 L264.70,141.05 L265.19,141.05 L265.69,141.05 L266.18,141.04 L266.68,141.04 L267.17,141.03 L267.67,141.03 L268.16,141.03 L268.66,141.02 L269.15,141.02 L269.65,141.02 L270.14,141.01 L270.64,141.01 L271.13,141.01 L271.63,141.01 L272.12,141.01 L272.62,141.00 L273.11,141.00 L273.61,141.00 L274.11,141.00 L274.60,141.00 L275.10,141.00 L275.59,141.00 L276.09,141.00 L276.58,141.00 L277.08,141.00 L277.57,141.00 L278.07,141.00 L278.56,141.00 L279.06,141.00 L279.55,141.00 L280.05,141.00 L280.54,141.00 L281.04,141.00 L281.53,141.00 L282.03,141.00 L282.52,141.00 L283.02,141.00 L283.51,141.00 L284.01,141.00 L284.50,141.00 L285.00,141.00 L285.49,141.00 L285.99,141.00 L286.48,141.00 L286.98,141.00 L287.47,141.00 L287.97,141.00 L288.46,141.00 L288.96,141.00 L289.46,141.00 L289.95,141.00 L290.45,141.00 L290.94,141.00 L291.44,141.00 L291.93,141.00 L292.43,141.00 L292.92,141.01 L293.42,141.01 L293.91,141.01 L294.41,141.01 L294.90,141.02 L295.40,141.02 L295.89,141.02 L296.39,141.02 L296.88,141.03 L297.38,141.03 L297.87,141.03 L298.37,141.04 L298.86,141.04 L299.36,141.05 L299.85,141.05 L300.35,141.05 L300.84,141.06 L301.34,141.06 L301.83,141.06 L302.33,141.07 L302.82,141.07 L303.32,141.07 L303.81,141.08 L304.31,141.08 L304.81,141.08 L305.30,141.09 L305.80,141.09 L306.29,141.09 L306.79,141.09 L307.28,141.09 L307.78,141.10 L308.27,141.10 L308.77,141.10 L309.26,141.10 L309.76,141.10 L310.25,141.10 L310.75,141.10 L311.24,141.10 L311.74,141.10 L312.23,141.10 L312.73,141.10 L313.22,141.10 L313.72,141.10 L314.21,141.10 L314.71,141.10 L315.20,141.10 L315.70,141.10 L316.19,141.10 L316.69,141.10 L317.18,141.10 L317.68,141.10 L318.17,141.10 L318.67,141.10 L319.16,141.10 L319.66,141.10 L320.15,141.10 L320.65,141.10 L321.15,141.10 L321.64,141.10 L322.14,141.10 L322.63,141.10 L323.13,141.10 L323.62,141.10 L324.12,141.10 L324.61,141.10 L325.11,141.10 L325.60,141.10 L326.10,141.10 L326.59,141.10 L327.09,141.10 L327.58,141.10 L328.08,141.10 L328.57,141.10 L329.07,141.10 L329.56,141.10 L330.06,141.10 L330.55,141.10 L331.05,141.10 L331.54,141.10 L332.04,141.10 L332.53,141.10 L333.03,141.10 L333.52,141.10 L334.02,141.10 L334.51,141.10 L335.01,141.10 L335.50,141.10 L336.00,141.10" fill="none" stroke="#8f0505" stroke-width="1.3" stroke-linejoin="round"/>
<path d="M39.40,205.80 L39.90,205.80 L40.39,205.80 L40.89,205.80 L41.38,205.80 L41.88,205.80 L42.37,205.80 L42.87,205.80 L43.36,205.80 L43.86,205.80 L44.35,205.80 L44.85,205.80 L45.34,205.80 L45.84,205.80 L46.33,205.80 L46.83,205.80 L47.32,205.80 L47.82,205.80 L48.31,205.80 L48.81,205.80 L49.30,205.80 L49.80,205.80 L50.29,205.80 L50.79,205.80 L51.28,205.80 L51.78,205.80 L52.27,205.80 L52.77,205.80 L53.26,205.80 L53.76,205.80 L54.25,205.80 L54.75,205.80 L55.25,205.80 L55.74,205.80 L56.24,205.80 L56.73,205.80 L57.23,205.80 L57.72,205.80 L58.22,205.80 L58.71,205.80 L59.21,205.80 L59.70,205.80 L60.20,205.80 L60.69,205.80 L61.19,205.80 L61.68,205.80 L62.18,205.80 L62.67,205.80 L63.17,205.80 L63.66,205.80 L64.16,205.80 L64.65,205.80 L65.15,205.80 L65.64,205.80 L66.14,205.80 L66.63,205.80 L67.13,205.80 L67.62,205.80 L68.12,205.80 L68.61,205.80 L69.11,205.80 L69.60,205.80 L70.10,205.80 L70.59,205.80 L71.09,205.80 L71.59,205.80 L72.08,205.80 L72.58,205.80 L73.07,205.80 L73.57,205.80 L74.06,205.80 L74.56,205.80 L75.05,205.80 L75.55,205.80 L76.04,205.80 L76.54,205.80 L77.03,205.77 L77.53,205.69 L78.02,205.57 L78.52,205.42 L79.01,205.26 L79.51,205.10 L80.00,204.91 L80.50,204.68 L80.99,204.42 L81.49,204.10 L81.98,203.75 L82.48,203.35 L82.97,202.83 L83.47,202.20 L83.96,201.45 L84.46,200.58 L84.95,199.55 L85.45,198.24 L85.94,196.56 L86.44,194.13 L86.94,189.88 L87.43,184.81 L87.93,180.30 L88.42,176.68 L88.92,173.37 L89.41,170.17 L89.91,166.87 L90.40,163.27 L90.90,159.10 L91.39,154.28 L91.89,149.11 L92.38,143.91 L92.88,138.96 L93.37,134.59 L93.87,131.08 L94.36,128.31 L94.86,125.92 L95.35,123.71 L95.85,121.52 L96.34,119.51 L96.84,117.86 L97.33,116.40 L97.83,116.20 L98.32,116.81 L98.82,117.49 L99.31,118.21 L99.81,119.00 L100.30,119.79 L100.80,120.56 L101.29,121.32 L101.79,122.08 L102.29,122.85 L102.78,123.63 L103.28,124.43 L103.77,125.26 L104.27,126.14 L104.76,127.05 L105.26,127.96 L105.75,128.83 L106.25,129.65 L106.74,130.46 L107.24,131.25 L107.73,132.03 L108.23,132.79 L108.72,133.53 L109.22,134.24 L109.71,134.92 L110.21,135.57 L110.70,136.20 L111.20,136.81 L111.69,137.41 L112.19,137.99 L112.68,138.56 L113.18,139.10 L113.67,139.63 L114.17,140.13 L114.66,140.62 L115.16,141.09 L115.65,141.55 L116.15,142.00 L116.64,142.45 L117.14,142.87 L117.64,143.29 L118.13,143.68 L118.63,144.06 L119.12,144.42 L119.62,144.76 L120.11,145.07 L120.61,145.37 L121.10,145.67 L121.60,145.96 L122.09,146.25 L122.59,146.52 L123.08,146.79 L123.58,147.04 L124.07,147.28 L124.57,147.51 L125.06,147.73 L125.56,147.93 L126.05,148.11 L126.55,148.27 L127.04,148.41 L127.54,148.55 L128.03,148.68 L128.53,148.81 L129.02,148.94 L129.52,149.07 L130.01,149.19 L130.51,149.30 L131.00,149.41 L131.50,149.50 L131.99,149.59 L132.49,149.66 L132.98,149.72 L133.48,149.76 L133.98,149.79 L134.47,149.80 L134.97,149.79 L135.46,149.76 L135.96,149.70 L136.45,149.63 L136.95,149.55 L137.44,149.45 L137.94,149.34 L138.43,149.21 L138.93,149.08 L139.42,148.95 L139.92,148.81 L140.41,148.67 L140.91,148.53 L141.40,148.38 L141.90,148.20 L142.39,148.00 L142.89,147.78 L143.38,147.54 L143.88,147.28 L144.37,147.02 L144.87,146.75 L145.36,146.48 L145.86,146.20 L146.35,145.93 L146.85,145.67 L147.34,145.41 L147.84,145.17 L148.33,144.95 L148.83,144.71 L149.33,144.47 L149.82,144.22 L150.32,143.97 L150.81,143.73 L151.31,143.49 L151.80,143.25 L152.30,143.03 L152.79,142.82 L153.29,142.62 L153.78,142.45 L154.28,142.29 L154.77,142.15 L155.27,142.04 L155.76,141.93 L156.26,141.82 L156.75,141.72 L157.25,141.62 L157.74,141.52 L158.24,141.43 L158.73,141.34 L159.23,141.26 L159.72,141.19 L160.22,141.13 L160.71,141.08 L161.21,141.04 L161.70,141.01 L162.20,141.00 L162.69,141.01 L163.19,141.04 L163.68,141.09 L164.18,141.17 L164.68,141.26 L165.17,141.37 L165.67,141.49 L166.16,141.61 L166.66,141.74 L167.15,141.87 L167.65,141.99 L168.14,142.10 L168.64,142.21 L169.13,142.29 L169.63,142.36 L170.12,142.41 L170.62,142.45 L171.11,142.49 L171.61,142.52 L172.10,142.56 L172.60,142.59 L173.09,142.62 L173.59,142.65 L174.08,142.68 L174.58,142.71 L175.07,142.73 L175.57,142.76 L176.06,142.78 L176.56,142.80 L177.05,142.82 L177.55,142.84 L178.04,142.85 L178.54,142.87 L179.03,142.88 L179.53,142.89 L180.03,142.90 L180.52,142.91 L181.02,142.92 L181.51,142.92 L182.01,142.93 L182.50,142.94 L183.00,142.95 L183.49,142.95 L183.99,142.96 L184.48,142.96 L184.98,142.97 L185.47,142.98 L185.97,142.98 L186.46,142.98 L186.96,142.99 L187.45,142.99 L187.95,142.99 L188.44,143.00 L188.94,143.00 L189.43,143.00 L189.93,143.00 L190.42,143.00 L190.92,143.00 L191.41,143.00 L191.91,143.00 L192.40,142.99 L192.90,142.99 L193.39,142.99 L193.89,142.98 L194.38,142.98 L194.88,142.97 L195.37,142.97 L195.87,142.96 L196.37,142.95 L196.86,142.95 L197.36,142.94 L197.85,142.93 L198.35,142.93 L198.84,142.92 L199.34,142.91 L199.83,142.90 L200.33,142.89 L200.82,142.88 L201.32,142.87 L201.81,142.85 L202.31,142.83 L202.80,142.81 L203.30,142.79 L203.79,142.77 L204.29,142.74 L204.78,142.72 L205.28,142.69 L205.77,142.67 L206.27,142.64 L206.76,142.62 L207.26,142.59 L207.75,142.57 L208.25,142.55 L208.74,142.53 L209.24,142.52 L209.73,142.51 L210.23,142.50 L210.72,142.49 L211.22,142.48 L211.72,142.47 L212.21,142.46 L212.71,142.45 L213.20,142.45 L213.70,142.44 L214.19,142.43 L214.69,142.43 L215.18,142.42 L215.68,142.42 L216.17,142.41 L216.67,142.41 L217.16,142.40 L217.66,142.40 L218.15,142.39 L218.65,142.39 L219.14,142.38 L219.64,142.38 L220.13,142.37 L220.63,142.37 L221.12,142.36 L221.62,142.35 L222.11,142.35 L222.61,142.34 L223.10,142.33 L223.60,142.33 L224.09,142.32 L224.59,142.31 L225.08,142.30 L225.58,142.29 L226.07,142.27 L226.57,142.26 L227.07,142.25 L227.56,142.23 L228.06,142.21 L228.55,142.19 L229.05,142.17 L229.54,142.15 L230.04,142.13 L230.53,142.11 L231.03,142.09 L231.52,142.07 L232.02,142.05 L232.51,142.02 L233.01,142.00 L233.50,141.98 L234.00,141.95 L234.49,141.93 L234.99,141.91 L235.48,141.88 L235.98,141.86 L236.47,141.84 L236.97,141.82 L237.46,141.79 L237.96,141.77 L238.45,141.75 L238.95,141.74 L239.44,141.72 L239.94,141.70 L240.43,141.69 L240.93,141.67 L241.42,141.65 L241.92,141.64 L242.42,141.62 L242.91,141.60 L243.41,141.59 L243.90,141.57 L244.40,141.55 L244.89,141.54 L245.39,141.52 L245.88,141.50 L246.38,141.49 L246.87,141.47 L247.37,141.46 L247.86,141.44 L248.36,141.43 L248.85,141.41 L249.35,141.40 L249.84,141.39 L250.34,141.37 L250.83,141.36 L251.33,141.35 L251.82,141.34 L252.32,141.33 L252.81,141.32 L253.31,141.32 L253.80,141.31 L254.30,141.31 L254.79,141.30 L255.29,141.30 L255.78,141.30 L256.28,141.29 L256.77,141.29 L257.27,141.29 L257.76,141.29 L258.26,141.28 L258.76,141.28 L259.25,141.28 L259.75,141.28 L260.24,141.28 L260.74,141.28 L261.23,141.27 L261.73,141.27 L262.22,141.27 L262.72,141.27 L263.21,141.27 L263.71,141.27 L264.20,141.27 L264.70,141.27 L265.19,141.26 L265.69,141.26 L266.18,141.26 L266.68,141.26 L267.17,141.26 L267.67,141.26 L268.16,141.26 L268.66,141.25 L269.15,141.25 L269.65,141.25 L270.14,141.25 L270.64,141.25 L271.13,141.25 L271.63,141.24 L272.12,141.24 L272.62,141.24 L273.11,141.24 L273.61,141.23 L274.11,141.23 L274.60,141.23 L275.10,141.22 L275.59,141.22 L276.09,141.22 L276.58,141.22 L277.08,141.21 L277.57,141.21 L278.07,141.21 L278.56,141.20 L279.06,141.20 L279.55,141.20 L280.05,141.19 L280.54,141.19 L281.04,141.19 L281.53,141.18 L282.03,141.18 L282.52,141.18 L283.02,141.17 L283.51,141.17 L284.01,141.17 L284.50,141.16 L285.00,141.16 L285.49,141.16 L285.99,141.15 L286.48,141.15 L286.98,141.15 L287.47,141.14 L287.97,141.14 L288.46,141.14 L288.96,141.14 L289.46,141.13 L289.95,141.13 L290.45,141.13 L290.94,141.13 L291.44,141.12 L291.93,141.12 L292.43,141.12 L292.92,141.12 L293.42,141.11 L293.91,141.11 L294.41,141.11 L294.90,141.11 L295.40,141.11 L295.89,141.11 L296.39,141.10 L296.88,141.10 L297.38,141.10 L297.87,141.10 L298.37,141.10 L298.86,141.10 L299.36,141.10 L299.85,141.10 L300.35,141.10 L300.84,141.10 L301.34,141.10 L301.83,141.10 L302.33,141.10 L302.82,141.10 L303.32,141.10 L303.81,141.10 L304.31,141.10 L304.81,141.10 L305.30,141.10 L305.80,141.10 L306.29,141.10 L306.79,141.10 L307.28,141.10 L307.78,141.10 L308.27,141.10 L308.77,141.10 L309.26,141.10 L309.76,141.10 L310.25,141.10 L310.75,141.10 L311.24,141.10 L311.74,141.10 L312.23,141.10 L312.73,141.10 L313.22,141.10 L313.72,141.10 L314.21,141.10 L314.71,141.10 L315.20,141.10 L315.70,141.10 L316.19,141.10 L316.69,141.10 L317.18,141.10 L317.68,141.10 L318.17,141.10 L318.67,141.10 L319.16,141.10 L319.66,141.10 L320.15,141.10 L320.65,141.10 L321.15,141.10 L321.64,141.10 L322.14,141.10 L322.63,141.10 L323.13,141.10 L323.62,141.10 L324.12,141.10 L324.61,141.10 L325.11,141.10 L325.60,141.10 L326.10,141.10 L326.59,141.10 L327.09,141.10 L327.58,141.10 L328.08,141.10 L328.57,141.10 L329.07,141.10 L329.56,141.10 L330.06,141.10 L330.55,141.10 L331.05,141.10 L331.54,141.10 L332.04,141.10 L332.53,141.10 L333.03,141.10 L333.52,141.10 L334.02,141.10 L334.51,141.10 L335.01,141.10 L335.50,141.10 L336.00,141.10" fill="none" stroke="#1a9a9e" stroke-width="1.3" stroke-linejoin="round"/>
<path d="M39.40,205.80 L39.90,205.80 L40.40,205.80 L40.90,205.80 L41.39,205.80 L41.89,205.80 L42.39,205.80 L42.89,205.80 L43.39,205.80 L43.89,205.80 L44.38,205.80 L44.88,205.80 L45.38,205.80 L45.88,205.80 L46.38,205.80 L46.88,205.80 L47.38,205.80 L47.87,205.80 L48.37,205.80 L48.87,205.80 L49.37,205.80 L49.87,205.80 L50.37,205.80 L50.87,205.80 L51.36,205.80 L51.86,205.80 L52.36,205.80 L52.86,205.80 L53.36,205.80 L53.86,205.80 L54.35,205.80 L54.85,205.80 L55.35,205.80 L55.85,205.80 L56.35,205.80 L56.85,205.80 L57.35,205.80 L57.84,205.80 L58.34,205.80 L58.84,205.80 L59.34,205.80 L59.84,205.80 L60.34,205.80 L60.84,205.80 L61.33,205.80 L61.83,205.80 L62.33,205.80 L62.83,205.80 L63.33,205.80 L63.83,205.80 L64.32,205.80 L64.82,205.80 L65.32,205.80 L65.82,205.80 L66.32,205.80 L66.82,205.80 L67.32,205.80 L67.81,205.80 L68.31,205.80 L68.81,205.80 L69.31,205.80 L69.81,205.80 L70.31,205.80 L70.81,205.80 L71.30,205.80 L71.80,205.80 L72.30,205.80 L72.80,205.80 L73.30,205.80 L73.80,205.80 L74.29,205.80 L74.79,205.80 L75.29,205.80 L75.79,205.80 L76.29,205.80 L76.79,205.80 L77.29,205.80 L77.78,205.80 L78.28,205.80 L78.78,205.80 L79.28,205.80 L79.78,205.80 L80.28,205.80 L80.78,205.80 L81.27,205.80 L81.77,205.80 L82.27,205.80 L82.77,205.80 L83.27,205.80 L83.77,205.80 L84.26,205.80 L84.76,205.76 L85.26,205.70 L85.76,205.62 L86.26,205.52 L86.76,205.41 L87.26,205.29 L87.75,205.16 L88.25,205.03 L88.75,204.87 L89.25,204.69 L89.75,204.47 L90.25,204.22 L90.75,203.93 L91.24,203.60 L91.74,203.19 L92.24,202.71 L92.74,202.15 L93.24,201.52 L93.74,200.82 L94.23,199.94 L94.73,198.82 L95.23,197.54 L95.73,196.17 L96.23,194.81 L96.73,193.40 L97.23,191.89 L97.72,190.33 L98.22,188.79 L98.72,187.33 L99.22,185.95 L99.72,184.61 L100.22,183.29 L100.72,181.99 L101.21,180.72 L101.71,179.46 L102.21,178.21 L102.71,176.97 L103.21,175.73 L103.71,174.51 L104.20,173.30 L104.70,172.11 L105.20,170.92 L105.70,169.74 L106.20,168.58 L106.70,167.49 L107.20,166.41 L107.69,165.31 L108.19,164.12 L108.69,162.81 L109.19,161.28 L109.69,159.49 L110.19,157.53 L110.69,155.49 L111.18,153.48 L111.68,151.59 L112.18,149.90 L112.68,148.21 L113.18,146.53 L113.68,144.98 L114.17,143.64 L114.67,142.62 L115.17,141.90 L115.67,141.26 L116.17,140.70 L116.67,140.20 L117.17,139.76 L117.66,139.34 L118.16,138.95 L118.66,138.57 L119.16,138.19 L119.66,137.79 L120.16,137.36 L120.66,136.95 L121.15,136.55 L121.65,136.18 L122.15,135.81 L122.65,135.45 L123.15,135.10 L123.65,134.74 L124.14,134.38 L124.64,134.01 L125.14,133.63 L125.64,133.23 L126.14,132.81 L126.64,132.36 L127.14,131.87 L127.63,131.36 L128.13,130.76 L128.63,130.10 L129.13,129.39 L129.63,128.63 L130.13,127.85 L130.63,127.07 L131.12,126.29 L131.62,125.54 L132.12,124.83 L132.62,124.13 L133.12,123.42 L133.62,122.71 L134.11,122.01 L134.61,121.32 L135.11,120.65 L135.61,120.02 L136.11,119.41 L136.61,118.83 L137.11,118.24 L137.60,117.66 L138.10,117.10 L138.60,116.58 L139.10,116.12 L139.60,115.74 L140.10,115.45 L140.59,115.21 L141.09,114.97 L141.59,114.75 L142.09,114.56 L142.59,114.41 L143.09,114.31 L143.59,114.25 L144.08,114.27 L144.58,114.35 L145.08,114.49 L145.58,114.68 L146.08,114.92 L146.58,115.18 L147.08,115.46 L147.57,115.75 L148.07,116.04 L148.57,116.37 L149.07,116.77 L149.57,117.21 L150.07,117.70 L150.56,118.23 L151.06,118.79 L151.56,119.37 L152.06,119.97 L152.56,120.57 L153.06,121.21 L153.56,121.89 L154.05,122.62 L154.55,123.38 L155.05,124.18 L155.55,125.00 L156.05,125.85 L156.55,126.71 L157.05,127.58 L157.54,128.46 L158.04,129.35 L158.54,130.27 L159.04,131.23 L159.54,132.27 L160.04,133.38 L160.53,134.59 L161.03,136.05 L161.53,137.74 L162.03,139.44 L162.53,140.98 L163.03,142.46 L163.53,143.93 L164.02,145.31 L164.52,146.54 L165.02,147.54 L165.52,148.38 L166.02,149.16 L166.52,149.88 L167.02,150.54 L167.51,151.16 L168.01,151.74 L168.51,152.28 L169.01,152.79 L169.51,153.28 L170.01,153.76 L170.50,154.22 L171.00,154.68 L171.50,155.13 L172.00,155.57 L172.50,155.98 L173.00,156.36 L173.50,156.71 L173.99,157.02 L174.49,157.28 L174.99,157.50 L175.49,157.68 L175.99,157.87 L176.49,158.04 L176.99,158.21 L177.48,158.35 L177.98,158.49 L178.48,158.59 L178.98,158.68 L179.48,158.73 L179.98,158.75 L180.47,158.73 L180.97,158.68 L181.47,158.59 L181.97,158.48 L182.47,158.34 L182.97,158.19 L183.47,158.03 L183.96,157.86 L184.46,157.68 L184.96,157.51 L185.46,157.34 L185.96,157.14 L186.46,156.92 L186.96,156.68 L187.45,156.43 L187.95,156.16 L188.45,155.89 L188.95,155.61 L189.45,155.32 L189.95,155.03 L190.44,154.74 L190.94,154.43 L191.44,154.11 L191.94,153.78 L192.44,153.44 L192.94,153.09 L193.44,152.74 L193.93,152.37 L194.43,152.00 L194.93,151.62 L195.43,151.24 L195.93,150.85 L196.43,150.46 L196.93,150.06 L197.42,149.64 L197.92,149.22 L198.42,148.79 L198.92,148.35 L199.42,147.90 L199.92,147.45 L200.41,146.99 L200.91,146.52 L201.41,146.06 L201.91,145.59 L202.41,145.10 L202.91,144.59 L203.41,144.07 L203.90,143.54 L204.40,143.03 L204.90,142.54 L205.40,142.10 L205.90,141.69 L206.40,141.29 L206.90,140.90 L207.39,140.52 L207.89,140.14 L208.39,139.78 L208.89,139.42 L209.39,139.08 L209.89,138.75 L210.38,138.44 L210.88,138.14 L211.38,137.86 L211.88,137.60 L212.38,137.37 L212.88,137.15 L213.38,136.95 L213.87,136.75 L214.37,136.55 L214.87,136.35 L215.37,136.15 L215.87,135.96 L216.37,135.77 L216.87,135.60 L217.36,135.43 L217.86,135.28 L218.36,135.14 L218.86,135.01 L219.36,134.91 L219.86,134.82 L220.35,134.75 L220.85,134.71 L221.35,134.69 L221.85,134.69 L222.35,134.71 L222.85,134.74 L223.35,134.78 L223.84,134.83 L224.34,134.90 L224.84,134.97 L225.34,135.05 L225.84,135.13 L226.34,135.22 L226.84,135.32 L227.33,135.41 L227.83,135.51 L228.33,135.61 L228.83,135.70 L229.33,135.80 L229.83,135.91 L230.32,136.02 L230.82,136.15 L231.32,136.28 L231.82,136.43 L232.32,136.57 L232.82,136.73 L233.32,136.88 L233.81,137.04 L234.31,137.21 L234.81,137.37 L235.31,137.53 L235.81,137.69 L236.31,137.85 L236.81,138.01 L237.30,138.16 L237.80,138.30 L238.30,138.44 L238.80,138.58 L239.30,138.72 L239.80,138.85 L240.29,138.99 L240.79,139.12 L241.29,139.25 L241.79,139.39 L242.29,139.52 L242.79,139.65 L243.29,139.78 L243.78,139.91 L244.28,140.04 L244.78,140.18 L245.28,140.31 L245.78,140.44 L246.28,140.57 L246.77,140.71 L247.27,140.84 L247.77,140.98 L248.27,141.11 L248.77,141.25 L249.27,141.40 L249.77,141.54 L250.26,141.70 L250.76,141.86 L251.26,142.02 L251.76,142.18 L252.26,142.34 L252.76,142.50 L253.26,142.66 L253.75,142.82 L254.25,142.98 L254.75,143.13 L255.25,143.27 L255.75,143.41 L256.25,143.54 L256.74,143.66 L257.24,143.78 L257.74,143.88 L258.24,143.97 L258.74,144.06 L259.24,144.15 L259.74,144.24 L260.23,144.33 L260.73,144.42 L261.23,144.51 L261.73,144.59 L262.23,144.66 L262.73,144.73 L263.23,144.80 L263.72,144.85 L264.22,144.90 L264.72,144.93 L265.22,144.96 L265.72,144.97 L266.22,144.97 L266.71,144.97 L267.21,144.95 L267.71,144.93 L268.21,144.91 L268.71,144.87 L269.21,144.84 L269.71,144.79 L270.20,144.75 L270.70,144.70 L271.20,144.64 L271.70,144.58 L272.20,144.52 L272.70,144.46 L273.20,144.40 L273.69,144.33 L274.19,144.27 L274.69,144.20 L275.19,144.14 L275.69,144.07 L276.19,144.01 L276.68,143.94 L277.18,143.86 L277.68,143.78 L278.18,143.69 L278.68,143.59 L279.18,143.49 L279.68,143.39 L280.17,143.28 L280.67,143.17 L281.17,143.06 L281.67,142.94 L282.17,142.83 L282.67,142.70 L283.17,142.58 L283.66,142.46 L284.16,142.34 L284.66,142.21 L285.16,142.09 L285.66,141.97 L286.16,141.84 L286.65,141.72 L287.15,141.60 L287.65,141.49 L288.15,141.37 L288.65,141.26 L289.15,141.16 L289.65,141.06 L290.14,140.96 L290.64,140.86 L291.14,140.76 L291.64,140.65 L292.14,140.55 L292.64,140.44 L293.14,140.34 L293.63,140.23 L294.13,140.13 L294.63,140.02 L295.13,139.92 L295.63,139.83 L296.13,139.73 L296.62,139.65 L297.12,139.56 L297.62,139.48 L298.12,139.41 L298.62,139.34 L299.12,139.28 L299.62,139.23 L300.11,139.19 L300.61,139.15 L301.11,139.11 L301.61,139.07 L302.11,139.03 L302.61,139.00 L303.11,138.96 L303.60,138.92 L304.10,138.89 L304.60,138.86 L305.10,138.83 L305.60,138.80 L306.10,138.78 L306.59,138.75 L307.09,138.73 L307.59,138.72 L308.09,138.70 L308.59,138.69 L309.09,138.68 L309.59,138.68 L310.08,138.68 L310.58,138.68 L311.08,138.69 L311.58,138.70 L312.08,138.72 L312.58,138.74 L313.08,138.77 L313.57,138.80 L314.07,138.84 L314.57,138.88 L315.07,138.92 L315.57,138.96 L316.07,139.01 L316.56,139.06 L317.06,139.10 L317.56,139.16 L318.06,139.21 L318.56,139.26 L319.06,139.31 L319.56,139.37 L320.05,139.42 L320.55,139.47 L321.05,139.52 L321.55,139.58 L322.05,139.62 L322.55,139.68 L323.05,139.73 L323.54,139.79 L324.04,139.85 L324.54,139.91 L325.04,139.97 L325.54,140.04 L326.04,140.11 L326.53,140.17 L327.03,140.24 L327.53,140.31 L328.03,140.38 L328.53,140.45 L329.03,140.52 L329.53,140.59 L330.02,140.66 L330.52,140.73 L331.02,140.79 L331.52,140.86 L332.02,140.92 L332.52,140.98 L333.02,141.04 L333.51,141.09 L334.01,141.14 L334.51,141.19 L335.01,141.24 L335.51,141.29 L336.01,141.34 L336.50,141.38 L337.00,141.42 L337.50,141.47 L338.00,141.51" fill="none" stroke="#ff0000" stroke-width="1.3" stroke-dasharray="4.5,2.3" stroke-linejoin="round"/>
<path d="M39.40,205.80 L39.90,205.80 L40.40,205.80 L40.90,205.80 L41.39,205.80 L41.89,205.80 L42.39,205.80 L42.89,205.80 L43.39,205.80 L43.89,205.80 L44.38,205.80 L44.88,205.80 L45.38,205.80 L45.88,205.80 L46.38,205.80 L46.88,205.80 L47.38,205.80 L47.87,205.80 L48.37,205.80 L48.87,205.80 L49.37,205.80 L49.87,205.80 L50.37,205.80 L50.87,205.80 L51.36,205.80 L51.86,205.80 L52.36,205.80 L52.86,205.80 L53.36,205.80 L53.86,205.80 L54.35,205.80 L54.85,205.80 L55.35,205.80 L55.85,205.80 L56.35,205.80 L56.85,205.80 L57.35,205.80 L57.84,205.80 L58.34,205.80 L58.84,205.80 L59.34,205.80 L59.84,205.80 L60.34,205.80 L60.84,205.80 L61.33,205.80 L61.83,205.80 L62.33,205.80 L62.83,205.80 L63.33,205.80 L63.83,205.80 L64.32,205.80 L64.82,205.80 L65.32,205.80 L65.82,205.80 L66.32,205.80 L66.82,205.80 L67.32,205.80 L67.81,205.80 L68.31,205.80 L68.81,205.80 L69.31,205.80 L69.81,205.80 L70.31,205.80 L70.81,205.80 L71.30,205.80 L71.80,205.80 L72.30,205.80 L72.80,205.80 L73.30,205.80 L73.80,205.80 L74.29,205.80 L74.79,205.80 L75.29,205.80 L75.79,205.80 L76.29,205.80 L76.79,205.80 L77.29,205.80 L77.78,205.80 L78.28,205.80 L78.78,205.79 L79.28,205.70 L79.78,205.56 L80.28,205.38 L80.78,205.20 L81.27,204.98 L81.77,204.72 L82.27,204.39 L82.77,203.97 L83.27,203.44 L83.77,202.78 L84.26,201.56 L84.76,198.68 L85.26,194.94 L85.76,191.00 L86.26,186.25 L86.76,180.41 L87.26,172.43 L87.75,162.56 L88.25,152.38 L88.75,142.73 L89.25,132.91 L89.75,123.20 L90.25,113.86 L90.75,104.74 L91.24,95.87 L91.74,87.30 L92.24,79.03 L92.74,70.94 L93.24,63.11 L93.74,55.65 L94.23,48.63 L94.73,41.68 L95.23,35.29 L95.73,30.24 L96.23,26.17 L96.73,22.59 L97.23,19.84 L97.72,18.18 L98.22,17.00 L98.72,16.12 L99.22,15.71 L99.72,15.95 L100.22,16.76 L100.72,17.96 L101.21,19.34 L101.71,21.47 L102.21,24.38 L102.71,27.75 L103.21,31.28 L103.71,35.49 L104.20,40.35 L104.70,45.45 L105.20,50.39 L105.70,54.74 L106.20,58.39 L106.70,61.82 L107.20,65.07 L107.69,68.15 L108.19,71.11 L108.69,73.96 L109.19,76.73 L109.69,79.46 L110.19,82.16 L110.69,84.87 L111.18,87.58 L111.68,90.23 L112.18,92.83 L112.68,95.38 L113.18,97.90 L113.68,100.37 L114.17,102.82 L114.67,105.26 L115.17,107.67 L115.67,110.08 L116.17,112.49 L116.67,114.90 L117.17,117.33 L117.66,119.78 L118.16,122.25 L118.66,124.73 L119.16,127.20 L119.66,129.65 L120.16,132.07 L120.66,134.44 L121.15,136.75 L121.65,138.99 L122.15,141.14 L122.65,143.23 L123.15,145.26 L123.65,147.24 L124.14,149.17 L124.64,151.05 L125.14,152.87 L125.64,154.64 L126.14,156.40 L126.64,158.17 L127.14,159.89 L127.63,161.56 L128.13,163.13 L128.63,164.56 L129.13,165.84 L129.63,166.98 L130.13,168.10 L130.63,169.17 L131.12,170.20 L131.62,171.17 L132.12,172.07 L132.62,172.90 L133.12,173.64 L133.62,174.29 L134.11,174.83 L134.61,175.28 L135.11,175.71 L135.61,176.13 L136.11,176.53 L136.61,176.89 L137.11,177.21 L137.60,177.46 L138.10,177.66 L138.60,177.77 L139.10,177.80 L139.60,177.75 L140.10,177.65 L140.59,177.49 L141.09,177.28 L141.59,177.02 L142.09,176.73 L142.59,176.41 L143.09,176.07 L143.59,175.70 L144.08,175.32 L144.58,174.93 L145.08,174.46 L145.58,173.86 L146.08,173.15 L146.58,172.35 L147.08,171.47 L147.57,170.54 L148.07,169.55 L148.57,168.53 L149.07,167.50 L149.57,166.47 L150.07,165.45 L150.56,164.45 L151.06,163.49 L151.56,162.51 L152.06,161.49 L152.56,160.45 L153.06,159.39 L153.56,158.32 L154.05,157.24 L154.55,156.16 L155.05,155.09 L155.55,154.02 L156.05,152.96 L156.55,151.92 L157.05,150.91 L157.54,149.90 L158.04,148.89 L158.54,147.88 L159.04,146.87 L159.54,145.87 L160.04,144.88 L160.53,143.92 L161.03,142.98 L161.53,142.07 L162.03,141.20 L162.53,140.36 L163.03,139.53 L163.53,138.71 L164.02,137.89 L164.52,137.09 L165.02,136.30 L165.52,135.53 L166.02,134.78 L166.52,134.07 L167.02,133.39 L167.51,132.74 L168.01,132.15 L168.51,131.60 L169.01,131.10 L169.51,130.62 L170.01,130.13 L170.50,129.65 L171.00,129.17 L171.50,128.70 L172.00,128.26 L172.50,127.85 L173.00,127.49 L173.50,127.17 L173.99,126.90 L174.49,126.70 L174.99,126.58 L175.49,126.53 L175.99,126.55 L176.49,126.59 L176.99,126.67 L177.48,126.77 L177.98,126.89 L178.48,127.03 L178.98,127.19 L179.48,127.36 L179.98,127.54 L180.47,127.72 L180.97,127.91 L181.47,128.10 L181.97,128.29 L182.47,128.49 L182.97,128.71 L183.47,128.96 L183.96,129.23 L184.46,129.52 L184.96,129.82 L185.46,130.14 L185.96,130.47 L186.46,130.81 L186.96,131.15 L187.45,131.49 L187.95,131.84 L188.45,132.18 L188.95,132.51 L189.45,132.84 L189.95,133.15 L190.44,133.46 L190.94,133.78 L191.44,134.10 L191.94,134.42 L192.44,134.74 L192.94,135.06 L193.44,135.39 L193.93,135.71 L194.43,136.03 L194.93,136.35 L195.43,136.66 L195.93,136.97 L196.43,137.27 L196.93,137.57 L197.42,137.86 L197.92,138.14 L198.42,138.41 L198.92,138.67 L199.42,138.94 L199.92,139.19 L200.41,139.44 L200.91,139.69 L201.41,139.93 L201.91,140.17 L202.41,140.41 L202.91,140.65 L203.41,140.88 L203.90,141.12 L204.40,141.36 L204.90,141.59 L205.40,141.83 L205.90,142.07 L206.40,142.32 L206.90,142.57 L207.39,142.83 L207.89,143.09 L208.39,143.35 L208.89,143.62 L209.39,143.88 L209.89,144.14 L210.38,144.39 L210.88,144.64 L211.38,144.89 L211.88,145.12 L212.38,145.34 L212.88,145.56 L213.38,145.75 L213.87,145.94 L214.37,146.11 L214.87,146.26 L215.37,146.39 L215.87,146.53 L216.37,146.67 L216.87,146.80 L217.36,146.93 L217.86,147.07 L218.36,147.20 L218.86,147.32 L219.36,147.44 L219.86,147.56 L220.35,147.67 L220.85,147.78 L221.35,147.88 L221.85,147.97 L222.35,148.06 L222.85,148.13 L223.35,148.20 L223.84,148.26 L224.34,148.30 L224.84,148.34 L225.34,148.36 L225.84,148.37 L226.34,148.37 L226.84,148.35 L227.33,148.32 L227.83,148.28 L228.33,148.23 L228.83,148.17 L229.33,148.10 L229.83,148.02 L230.32,147.93 L230.82,147.83 L231.32,147.73 L231.82,147.62 L232.32,147.51 L232.82,147.39 L233.32,147.26 L233.81,147.13 L234.31,147.01 L234.81,146.87 L235.31,146.74 L235.81,146.61 L236.31,146.47 L236.81,146.34 L237.30,146.21 L237.80,146.06 L238.30,145.91 L238.80,145.74 L239.30,145.55 L239.80,145.36 L240.29,145.16 L240.79,144.95 L241.29,144.74 L241.79,144.51 L242.29,144.28 L242.79,144.05 L243.29,143.82 L243.78,143.58 L244.28,143.34 L244.78,143.09 L245.28,142.85 L245.78,142.61 L246.28,142.37 L246.77,142.14 L247.27,141.90 L247.77,141.68 L248.27,141.46 L248.77,141.24 L249.27,141.02 L249.77,140.80 L250.26,140.57 L250.76,140.33 L251.26,140.09 L251.76,139.85 L252.26,139.60 L252.76,139.36 L253.26,139.13 L253.75,138.89 L254.25,138.67 L254.75,138.45 L255.25,138.24 L255.75,138.05 L256.25,137.86 L256.74,137.69 L257.24,137.54 L257.74,137.41 L258.24,137.29 L258.74,137.18 L259.24,137.07 L259.74,136.95 L260.23,136.84 L260.73,136.74 L261.23,136.63 L261.73,136.54 L262.23,136.45 L262.73,136.36 L263.23,136.28 L263.72,136.22 L264.22,136.16 L264.72,136.11 L265.22,136.08 L265.72,136.06 L266.22,136.05 L266.71,136.06 L267.21,136.08 L267.71,136.12 L268.21,136.17 L268.71,136.23 L269.21,136.30 L269.71,136.39 L270.20,136.48 L270.70,136.58 L271.20,136.68 L271.70,136.79 L272.20,136.90 L272.70,137.02 L273.20,137.14 L273.69,137.26 L274.19,137.37 L274.69,137.49 L275.19,137.60 L275.69,137.70 L276.19,137.80 L276.68,137.90 L277.18,138.01 L277.68,138.11 L278.18,138.22 L278.68,138.33 L279.18,138.44 L279.68,138.55 L280.17,138.67 L280.67,138.79 L281.17,138.90 L281.67,139.02 L282.17,139.14 L282.67,139.26 L283.17,139.38 L283.66,139.50 L284.16,139.62 L284.66,139.74 L285.16,139.86 L285.66,139.98 L286.16,140.10 L286.65,140.22 L287.15,140.34 L287.65,140.46 L288.15,140.57 L288.65,140.69 L289.15,140.80 L289.65,140.91 L290.14,141.02 L290.64,141.13 L291.14,141.25 L291.64,141.37 L292.14,141.49 L292.64,141.61 L293.14,141.74 L293.63,141.86 L294.13,141.99 L294.63,142.11 L295.13,142.23 L295.63,142.34 L296.13,142.45 L296.62,142.56 L297.12,142.66 L297.62,142.75 L298.12,142.83 L298.62,142.91 L299.12,142.98 L299.62,143.03 L300.11,143.08 L300.61,143.12 L301.11,143.16 L301.61,143.20 L302.11,143.24 L302.61,143.27 L303.11,143.31 L303.60,143.34 L304.10,143.38 L304.60,143.41 L305.10,143.44 L305.60,143.46 L306.10,143.49 L306.59,143.51 L307.09,143.53 L307.59,143.55 L308.09,143.56 L308.59,143.57 L309.09,143.58 L309.59,143.59 L310.08,143.59 L310.58,143.58 L311.08,143.58 L311.58,143.57 L312.08,143.55 L312.58,143.53 L313.08,143.51 L313.57,143.48 L314.07,143.45 L314.57,143.42 L315.07,143.38 L315.57,143.35 L316.07,143.31 L316.56,143.27 L317.06,143.22 L317.56,143.18 L318.06,143.13 L318.56,143.09 L319.06,143.04 L319.56,142.99 L320.05,142.94 L320.55,142.89 L321.05,142.85 L321.55,142.80 L322.05,142.75 L322.55,142.70 L323.05,142.65 L323.54,142.58 L324.04,142.52 L324.54,142.45 L325.04,142.38 L325.54,142.30 L326.04,142.23 L326.53,142.15 L327.03,142.06 L327.53,141.98 L328.03,141.90 L328.53,141.82 L329.03,141.73 L329.53,141.65 L330.02,141.57 L330.52,141.49 L331.02,141.42 L331.52,141.34 L332.02,141.28 L332.52,141.21 L333.02,141.15 L333.51,141.09 L334.01,141.04 L334.51,140.99 L335.01,140.94 L335.51,140.89 L336.01,140.84 L336.50,140.80 L337.00,140.76 L337.50,140.72 L338.00,140.68" fill="none" stroke="#008000" stroke-width="1.3" stroke-dasharray="4.5,2.3" stroke-dashoffset="0.47" stroke-linejoin="round"/>
<path d="M39.40,205.80 L39.90,205.80 L40.40,205.80 L40.90,205.80 L41.39,205.80 L41.89,205.80 L42.39,205.80 L42.89,205.80 L43.39,205.80 L43.89,205.80 L44.38,205.80 L44.88,205.80 L45.38,205.80 L45.88,205.80 L46.38,205.80 L46.88,205.80 L47.38,205.80 L47.87,205.80 L48.37,205.80 L48.87,205.80 L49.37,205.80 L49.87,205.80 L50.37,205.80 L50.87,205.80 L51.36,205.80 L51.86,205.80 L52.36,205.80 L52.86,205.80 L53.36,205.80 L53.86,205.80 L54.35,205.80 L54.85,205.80 L55.35,205.80 L55.85,205.80 L56.35,205.80 L56.85,205.80 L57.35,205.80 L57.84,205.80 L58.34,205.80 L58.84,205.80 L59.34,205.80 L59.84,205.80 L60.34,205.80 L60.84,205.80 L61.33,205.80 L61.83,205.80 L62.33,205.80 L62.83,205.80 L63.33,205.80 L63.83,205.80 L64.32,205.80 L64.82,205.80 L65.32,205.80 L65.82,205.80 L66.32,205.80 L66.82,205.80 L67.32,205.80 L67.81,205.80 L68.31,205.80 L68.81,205.80 L69.31,205.80 L69.81,205.80 L70.31,205.80 L70.81,205.80 L71.30,205.80 L71.80,205.80 L72.30,205.80 L72.80,205.80 L73.30,205.80 L73.80,205.80 L74.29,205.80 L74.79,205.80 L75.29,205.80 L75.79,205.80 L76.29,205.80 L76.79,205.80 L77.29,205.80 L77.78,205.80 L78.28,205.80 L78.78,205.80 L79.28,205.80 L79.78,205.80 L80.28,205.80 L80.78,205.80 L81.27,205.80 L81.77,205.80 L82.27,205.80 L82.77,205.80 L83.27,205.80 L83.77,205.80 L84.26,205.80 L84.76,205.80 L85.26,205.80 L85.76,205.80 L86.26,205.80 L86.76,205.80 L87.26,205.80 L87.75,205.80 L88.25,205.80 L88.75,205.80 L89.25,205.79 L89.75,205.69 L90.25,205.53 L90.75,205.33 L91.24,205.12 L91.74,204.90 L92.24,204.63 L92.74,204.35 L93.24,204.07 L93.74,203.80 L94.23,203.54 L94.73,203.27 L95.23,203.00 L95.73,202.71 L96.23,202.41 L96.73,202.08 L97.23,201.71 L97.72,201.31 L98.22,200.86 L98.72,200.36 L99.22,199.81 L99.72,199.21 L100.22,198.56 L100.72,197.88 L101.21,197.15 L101.71,196.36 L102.21,195.48 L102.71,194.51 L103.21,193.47 L103.71,192.37 L104.20,191.22 L104.70,190.02 L105.20,188.71 L105.70,187.33 L106.20,185.87 L106.70,184.38 L107.20,182.85 L107.69,181.32 L108.19,179.81 L108.69,178.27 L109.19,176.62 L109.69,174.78 L110.19,172.73 L110.69,170.51 L111.18,168.16 L111.68,165.70 L112.18,163.17 L112.68,160.61 L113.18,157.97 L113.68,155.20 L114.17,152.34 L114.67,149.41 L115.17,146.44 L115.67,143.46 L116.17,140.49 L116.67,137.38 L117.17,134.20 L117.66,131.11 L118.16,128.23 L118.66,125.61 L119.16,123.07 L119.66,120.67 L120.16,118.50 L120.66,116.65 L121.15,115.04 L121.65,113.52 L122.15,112.14 L122.65,110.94 L123.15,109.99 L123.65,109.33 L124.14,108.77 L124.64,108.26 L125.14,107.84 L125.64,107.54 L126.14,107.41 L126.64,107.42 L127.14,107.51 L127.63,107.66 L128.13,107.85 L128.63,108.07 L129.13,108.32 L129.63,108.57 L130.13,108.90 L130.63,109.32 L131.12,109.82 L131.62,110.40 L132.12,111.03 L132.62,111.70 L133.12,112.41 L133.62,113.14 L134.11,113.87 L134.61,114.60 L135.11,115.32 L135.61,116.00 L136.11,116.64 L136.61,117.27 L137.11,117.93 L137.60,118.60 L138.10,119.27 L138.60,119.96 L139.10,120.64 L139.60,121.33 L140.10,122.02 L140.59,122.70 L141.09,123.37 L141.59,124.03 L142.09,124.68 L142.59,125.31 L143.09,125.92 L143.59,126.50 L144.08,127.06 L144.58,127.58 L145.08,128.08 L145.58,128.55 L146.08,129.00 L146.58,129.44 L147.08,129.87 L147.57,130.28 L148.07,130.68 L148.57,131.07 L149.07,131.46 L149.57,131.83 L150.07,132.20 L150.56,132.56 L151.06,132.92 L151.56,133.27 L152.06,133.63 L152.56,133.98 L153.06,134.33 L153.56,134.68 L154.05,135.04 L154.55,135.39 L155.05,135.73 L155.55,136.07 L156.05,136.39 L156.55,136.72 L157.05,137.04 L157.54,137.35 L158.04,137.67 L158.54,137.98 L159.04,138.30 L159.54,138.62 L160.04,138.95 L160.53,139.28 L161.03,139.62 L161.53,139.97 L162.03,140.33 L162.53,140.70 L163.03,141.08 L163.53,141.49 L164.02,141.90 L164.52,142.33 L165.02,142.76 L165.52,143.19 L166.02,143.62 L166.52,144.05 L167.02,144.46 L167.51,144.86 L168.01,145.25 L168.51,145.65 L169.01,146.04 L169.51,146.42 L170.01,146.80 L170.50,147.18 L171.00,147.55 L171.50,147.91 L172.00,148.26 L172.50,148.60 L173.00,148.94 L173.50,149.28 L173.99,149.63 L174.49,149.98 L174.99,150.32 L175.49,150.66 L175.99,150.98 L176.49,151.29 L176.99,151.57 L177.48,151.83 L177.98,152.06 L178.48,152.26 L178.98,152.42 L179.48,152.58 L179.98,152.74 L180.47,152.90 L180.97,153.04 L181.47,153.18 L181.97,153.30 L182.47,153.40 L182.97,153.49 L183.47,153.55 L183.96,153.59 L184.46,153.60 L184.96,153.59 L185.46,153.57 L185.96,153.54 L186.46,153.50 L186.96,153.45 L187.45,153.39 L187.95,153.33 L188.45,153.25 L188.95,153.18 L189.45,153.09 L189.95,153.01 L190.44,152.91 L190.94,152.77 L191.44,152.59 L191.94,152.39 L192.44,152.16 L192.94,151.91 L193.44,151.64 L193.93,151.35 L194.43,151.05 L194.93,150.74 L195.43,150.42 L195.93,150.10 L196.43,149.79 L196.93,149.44 L197.42,149.05 L197.92,148.64 L198.42,148.20 L198.92,147.75 L199.42,147.28 L199.92,146.81 L200.41,146.34 L200.91,145.88 L201.41,145.43 L201.91,144.99 L202.41,144.57 L202.91,144.15 L203.41,143.73 L203.90,143.31 L204.40,142.90 L204.90,142.48 L205.40,142.07 L205.90,141.65 L206.40,141.21 L206.90,140.76 L207.39,140.30 L207.89,139.83 L208.39,139.36 L208.89,138.90 L209.39,138.44 L209.89,137.99 L210.38,137.57 L210.88,137.16 L211.38,136.78 L211.88,136.44 L212.38,136.13 L212.88,135.86 L213.38,135.62 L213.87,135.39 L214.37,135.15 L214.87,134.92 L215.37,134.69 L215.87,134.47 L216.37,134.26 L216.87,134.06 L217.36,133.88 L217.86,133.70 L218.36,133.55 L218.86,133.42 L219.36,133.30 L219.86,133.21 L220.35,133.15 L220.85,133.11 L221.35,133.10 L221.85,133.11 L222.35,133.14 L222.85,133.19 L223.35,133.25 L223.84,133.33 L224.34,133.41 L224.84,133.51 L225.34,133.61 L225.84,133.73 L226.34,133.84 L226.84,133.96 L227.33,134.09 L227.83,134.21 L228.33,134.34 L228.83,134.46 L229.33,134.58 L229.83,134.72 L230.32,134.87 L230.82,135.03 L231.32,135.20 L231.82,135.38 L232.32,135.57 L232.82,135.76 L233.32,135.96 L233.81,136.16 L234.31,136.37 L234.81,136.57 L235.31,136.77 L235.81,136.97 L236.31,137.17 L236.81,137.37 L237.30,137.55 L237.80,137.73 L238.30,137.90 L238.80,138.07 L239.30,138.24 L239.80,138.41 L240.29,138.57 L240.79,138.74 L241.29,138.90 L241.79,139.06 L242.29,139.22 L242.79,139.38 L243.29,139.54 L243.78,139.70 L244.28,139.86 L244.78,140.02 L245.28,140.17 L245.78,140.33 L246.28,140.48 L246.77,140.64 L247.27,140.79 L247.77,140.95 L248.27,141.10 L248.77,141.26 L249.27,141.41 L249.77,141.57 L250.26,141.74 L250.76,141.90 L251.26,142.07 L251.76,142.24 L252.26,142.41 L252.76,142.58 L253.26,142.74 L253.75,142.90 L254.25,143.06 L254.75,143.21 L255.25,143.36 L255.75,143.49 L256.25,143.62 L256.74,143.74 L257.24,143.85 L257.74,143.95 L258.24,144.04 L258.74,144.13 L259.24,144.22 L259.74,144.31 L260.23,144.39 L260.73,144.48 L261.23,144.56 L261.73,144.63 L262.23,144.71 L262.73,144.77 L263.23,144.83 L263.72,144.88 L264.22,144.93 L264.72,144.96 L265.22,144.99 L265.72,145.00 L266.22,145.00 L266.71,144.99 L267.21,144.98 L267.71,144.96 L268.21,144.94 L268.71,144.90 L269.21,144.87 L269.71,144.83 L270.20,144.78 L270.70,144.74 L271.20,144.69 L271.70,144.63 L272.20,144.57 L272.70,144.51 L273.20,144.45 L273.69,144.39 L274.19,144.33 L274.69,144.27 L275.19,144.20 L275.69,144.14 L276.19,144.08 L276.68,144.01 L277.18,143.93 L277.68,143.85 L278.18,143.76 L278.68,143.67 L279.18,143.57 L279.68,143.47 L280.17,143.36 L280.67,143.25 L281.17,143.13 L281.67,143.01 L282.17,142.89 L282.67,142.77 L283.17,142.65 L283.66,142.52 L284.16,142.39 L284.66,142.27 L285.16,142.14 L285.66,142.01 L286.16,141.89 L286.65,141.76 L287.15,141.64 L287.65,141.52 L288.15,141.41 L288.65,141.29 L289.15,141.18 L289.65,141.07 L290.14,140.97 L290.64,140.87 L291.14,140.76 L291.64,140.65 L292.14,140.54 L292.64,140.43 L293.14,140.32 L293.63,140.21 L294.13,140.10 L294.63,139.99 L295.13,139.88 L295.63,139.78 L296.13,139.68 L296.62,139.58 L297.12,139.49 L297.62,139.41 L298.12,139.33 L298.62,139.26 L299.12,139.19 L299.62,139.14 L300.11,139.09 L300.61,139.04 L301.11,139.00 L301.61,138.96 L302.11,138.91 L302.61,138.87 L303.11,138.83 L303.60,138.79 L304.10,138.75 L304.60,138.71 L305.10,138.68 L305.60,138.65 L306.10,138.62 L306.59,138.59 L307.09,138.57 L307.59,138.55 L308.09,138.53 L308.59,138.52 L309.09,138.51 L309.59,138.50 L310.08,138.50 L310.58,138.50 L311.08,138.51 L311.58,138.53 L312.08,138.55 L312.58,138.57 L313.08,138.60 L313.57,138.64 L314.07,138.67 L314.57,138.71 L315.07,138.76 L315.57,138.80 L316.07,138.85 L316.56,138.90 L317.06,138.95 L317.56,139.01 L318.06,139.06 L318.56,139.12 L319.06,139.17 L319.56,139.23 L320.05,139.29 L320.55,139.34 L321.05,139.40 L321.55,139.45 L322.05,139.51 L322.55,139.56 L323.05,139.62 L323.54,139.68 L324.04,139.75 L324.54,139.81 L325.04,139.89 L325.54,139.96 L326.04,140.03 L326.53,140.11 L327.03,140.19 L327.53,140.26 L328.03,140.34 L328.53,140.42 L329.03,140.50 L329.53,140.57 L330.02,140.65 L330.52,140.72 L331.02,140.79 L331.52,140.86 L332.02,140.93 L332.52,140.99 L333.02,141.05 L333.51,141.10 L334.01,141.15 L334.51,141.20 L335.01,141.25 L335.51,141.30 L336.01,141.34 L336.50,141.38 L337.00,141.42 L337.50,141.46 L338.00,141.50" fill="none" stroke="#0000ff" stroke-width="1.3" stroke-dasharray="4.5,2.3" stroke-linejoin="round"/>
<path d="M39.40,205.80 L39.90,205.80 L40.39,205.80 L40.89,205.80 L41.38,205.80 L41.88,205.80 L42.37,205.80 L42.87,205.80 L43.36,205.80 L43.86,205.80 L44.35,205.80 L44.85,205.80 L45.34,205.80 L45.84,205.80 L46.33,205.80 L46.83,205.80 L47.32,205.80 L47.82,205.80 L48.31,205.80 L48.81,205.80 L49.30,205.80 L49.80,205.80 L50.29,205.80 L50.79,205.80 L51.28,205.80 L51.78,205.80 L52.27,205.80 L52.77,205.80 L53.26,205.80 L53.76,205.80 L54.25,205.80 L54.75,205.80 L55.25,205.80 L55.74,205.80 L56.24,205.80 L56.73,205.80 L57.23,205.80 L57.72,205.80 L58.22,205.80 L58.71,205.80 L59.21,205.80 L59.70,205.80 L60.20,205.80 L60.69,205.80 L61.19,205.80 L61.68,205.80 L62.18,205.80 L62.67,205.80 L63.17,205.80 L63.66,205.80 L64.16,205.80 L64.65,205.80 L65.15,205.80 L65.64,205.80 L66.14,205.80 L66.63,205.80 L67.13,205.80 L67.62,205.80 L68.12,205.80 L68.61,205.80 L69.11,205.80 L69.60,205.80 L70.10,205.80 L70.59,205.80 L71.09,205.80 L71.59,205.80 L72.08,205.80 L72.58,205.80 L73.07,205.80 L73.57,205.80 L74.06,205.80 L74.56,205.80 L75.05,205.80 L75.55,205.80 L76.04,205.80 L76.54,205.80 L77.03,205.80 L77.53,205.80 L78.02,205.80 L78.52,205.80 L79.01,205.80 L79.51,205.75 L80.00,205.67 L80.50,205.55 L80.99,205.40 L81.49,205.21 L81.98,204.83 L82.48,204.25 L82.97,203.54 L83.47,202.62 L83.96,201.35 L84.46,199.71 L84.95,197.70 L85.45,194.58 L85.94,189.93 L86.44,184.79 L86.94,180.21 L87.43,176.38 L87.93,172.80 L88.42,169.27 L88.92,165.59 L89.41,161.55 L89.91,156.87 L90.40,151.72 L90.90,146.39 L91.39,141.18 L91.89,136.40 L92.38,132.33 L92.88,129.05 L93.37,126.12 L93.87,123.47 L94.36,121.02 L94.86,118.73 L95.35,116.52 L95.85,114.41 L96.34,112.46 L96.84,110.70 L97.33,109.02 L97.83,107.46 L98.32,106.47 L98.82,105.90 L99.31,105.46 L99.81,105.22 L100.30,105.25 L100.80,105.48 L101.29,105.86 L101.79,106.29 L102.29,106.87 L102.78,107.66 L103.28,108.57 L103.77,109.54 L104.27,110.66 L104.76,111.88 L105.26,113.21 L105.75,114.72 L106.25,116.12 L106.74,117.31 L107.24,118.42 L107.73,119.52 L108.23,120.68 L108.72,121.81 L109.22,122.86 L109.71,123.74 L110.21,124.46 L110.70,125.10 L111.20,125.67 L111.69,126.19 L112.19,126.68 L112.68,127.14 L113.18,127.57 L113.67,127.97 L114.17,128.35 L114.66,128.73 L115.16,129.12 L115.65,129.51 L116.15,129.93 L116.64,130.34 L117.14,130.76 L117.64,131.17 L118.13,131.59 L118.63,132.02 L119.12,132.46 L119.62,132.93 L120.11,133.41 L120.61,133.92 L121.10,134.46 L121.60,135.02 L122.09,135.60 L122.59,136.19 L123.08,136.78 L123.58,137.39 L124.07,137.99 L124.57,138.59 L125.06,139.17 L125.56,139.78 L126.05,140.40 L126.55,141.03 L127.04,141.67 L127.54,142.30 L128.03,142.93 L128.53,143.53 L129.02,144.10 L129.52,144.63 L130.01,145.11 L130.51,145.57 L131.00,146.03 L131.50,146.48 L131.99,146.91 L132.49,147.32 L132.98,147.71 L133.48,148.06 L133.98,148.38 L134.47,148.66 L134.97,148.89 L135.46,149.09 L135.96,149.28 L136.45,149.48 L136.95,149.66 L137.44,149.83 L137.94,149.98 L138.43,150.12 L138.93,150.23 L139.42,150.32 L139.92,150.38 L140.41,150.40 L140.91,150.39 L141.40,150.36 L141.90,150.32 L142.39,150.25 L142.89,150.17 L143.38,150.07 L143.88,149.96 L144.37,149.84 L144.87,149.71 L145.36,149.58 L145.86,149.44 L146.35,149.29 L146.85,149.14 L147.34,148.99 L147.84,148.80 L148.33,148.57 L148.83,148.31 L149.33,148.03 L149.82,147.73 L150.32,147.42 L150.81,147.09 L151.31,146.76 L151.80,146.42 L152.30,146.08 L152.79,145.75 L153.29,145.43 L153.78,145.13 L154.28,144.84 L154.77,144.55 L155.27,144.25 L155.76,143.95 L156.26,143.64 L156.75,143.34 L157.25,143.03 L157.74,142.73 L158.24,142.43 L158.73,142.13 L159.23,141.84 L159.72,141.56 L160.22,141.28 L160.71,141.02 L161.21,140.76 L161.70,140.52 L162.20,140.29 L162.69,140.07 L163.19,139.83 L163.68,139.59 L164.18,139.35 L164.68,139.12 L165.17,138.90 L165.67,138.71 L166.16,138.55 L166.66,138.43 L167.15,138.37 L167.65,138.35 L168.14,138.36 L168.64,138.38 L169.13,138.41 L169.63,138.45 L170.12,138.49 L170.62,138.54 L171.11,138.60 L171.61,138.65 L172.10,138.71 L172.60,138.79 L173.09,138.89 L173.59,139.01 L174.08,139.15 L174.58,139.30 L175.07,139.47 L175.57,139.65 L176.06,139.83 L176.56,140.02 L177.05,140.21 L177.55,140.40 L178.04,140.59 L178.54,140.77 L179.03,140.95 L179.53,141.15 L180.03,141.36 L180.52,141.58 L181.02,141.80 L181.51,142.03 L182.01,142.25 L182.50,142.47 L183.00,142.68 L183.49,142.88 L183.99,143.06 L184.48,143.21 L184.98,143.34 L185.47,143.46 L185.97,143.58 L186.46,143.70 L186.96,143.81 L187.45,143.91 L187.95,144.00 L188.44,144.08 L188.94,144.14 L189.43,144.18 L189.93,144.20 L190.42,144.20 L190.92,144.18 L191.41,144.15 L191.91,144.11 L192.40,144.07 L192.90,144.01 L193.39,143.96 L193.89,143.89 L194.38,143.83 L194.88,143.76 L195.37,143.69 L195.87,143.62 L196.37,143.55 L196.86,143.46 L197.36,143.37 L197.85,143.27 L198.35,143.16 L198.84,143.04 L199.34,142.92 L199.83,142.80 L200.33,142.68 L200.82,142.56 L201.32,142.45 L201.81,142.34 L202.31,142.23 L202.80,142.12 L203.30,142.01 L203.79,141.89 L204.29,141.77 L204.78,141.65 L205.28,141.53 L205.77,141.41 L206.27,141.30 L206.76,141.19 L207.26,141.09 L207.75,140.99 L208.25,140.91 L208.74,140.83 L209.24,140.77 L209.73,140.72 L210.23,140.68 L210.72,140.65 L211.22,140.62 L211.72,140.59 L212.21,140.56 L212.71,140.53 L213.20,140.50 L213.70,140.48 L214.19,140.45 L214.69,140.43 L215.18,140.41 L215.68,140.39 L216.17,140.37 L216.67,140.35 L217.16,140.34 L217.66,140.33 L218.15,140.32 L218.65,140.31 L219.14,140.30 L219.64,140.30 L220.13,140.30 L220.63,140.30 L221.12,140.30 L221.62,140.31 L222.11,140.31 L222.61,140.31 L223.10,140.32 L223.60,140.33 L224.09,140.33 L224.59,140.34 L225.08,140.35 L225.58,140.36 L226.07,140.37 L226.57,140.38 L227.07,140.39 L227.56,140.40 L228.06,140.41 L228.55,140.42 L229.05,140.43 L229.54,140.44 L230.04,140.45 L230.53,140.47 L231.03,140.48 L231.52,140.49 L232.02,140.50 L232.51,140.51 L233.01,140.53 L233.50,140.55 L234.00,140.56 L234.49,140.59 L234.99,140.61 L235.48,140.63 L235.98,140.66 L236.47,140.68 L236.97,140.71 L237.46,140.73 L237.96,140.76 L238.45,140.79 L238.95,140.81 L239.44,140.84 L239.94,140.86 L240.43,140.88 L240.93,140.90 L241.42,140.92 L241.92,140.94 L242.42,140.96 L242.91,140.97 L243.41,140.98 L243.90,140.99 L244.40,141.00 L244.89,141.00 L245.39,141.00 L245.88,141.00 L246.38,140.99 L246.87,140.99 L247.37,140.98 L247.86,140.98 L248.36,140.97 L248.85,140.96 L249.35,140.95 L249.84,140.94 L250.34,140.93 L250.83,140.91 L251.33,140.90 L251.82,140.89 L252.32,140.87 L252.81,140.86 L253.31,140.85 L253.80,140.83 L254.30,140.82 L254.79,140.81 L255.29,140.79 L255.78,140.78 L256.28,140.77 L256.77,140.76 L257.27,140.74 L257.76,140.73 L258.26,140.72 L258.76,140.72 L259.25,140.71 L259.75,140.70 L260.24,140.70 L260.74,140.69 L261.23,140.69 L261.73,140.68 L262.22,140.68 L262.72,140.67 L263.21,140.67 L263.71,140.66 L264.20,140.66 L264.70,140.65 L265.19,140.65 L265.69,140.65 L266.18,140.64 L266.68,140.64 L267.17,140.63 L267.67,140.63 L268.16,140.63 L268.66,140.62 L269.15,140.62 L269.65,140.62 L270.14,140.61 L270.64,140.61 L271.13,140.61 L271.63,140.61 L272.12,140.61 L272.62,140.60 L273.11,140.60 L273.61,140.60 L274.11,140.60 L274.60,140.60 L275.10,140.60 L275.59,140.60 L276.09,140.60 L276.58,140.60 L277.08,140.60 L277.57,140.60 L278.07,140.60 L278.56,140.60 L279.06,140.60 L279.55,140.60 L280.05,140.60 L280.54,140.60 L281.04,140.60 L281.53,140.60 L282.03,140.60 L282.52,140.60 L283.02,140.60 L283.51,140.60 L284.01,140.60 L284.50,140.60 L285.00,140.60 L285.49,140.60 L285.99,140.60 L286.48,140.60 L286.98,140.60 L287.47,140.60 L287.97,140.60 L288.46,140.60 L288.96,140.60 L289.46,140.60 L289.95,140.60 L290.45,140.60 L290.94,140.60 L291.44,140.60 L291.93,140.60 L292.43,140.60 L292.92,140.61 L293.42,140.61 L293.91,140.61 L294.41,140.61 L294.90,140.62 L295.40,140.62 L295.89,140.62 L296.39,140.62 L296.88,140.63 L297.38,140.63 L297.87,140.63 L298.37,140.64 L298.86,140.64 L299.36,140.65 L299.85,140.65 L300.35,140.65 L300.84,140.66 L301.34,140.66 L301.83,140.66 L302.33,140.67 L302.82,140.67 L303.32,140.67 L303.81,140.68 L304.31,140.68 L304.81,140.68 L305.30,140.69 L305.80,140.69 L306.29,140.69 L306.79,140.69 L307.28,140.69 L307.78,140.70 L308.27,140.70 L308.77,140.70 L309.26,140.70 L309.76,140.70 L310.25,140.70 L310.75,140.70 L311.24,140.70 L311.74,140.70 L312.23,140.70 L312.73,140.70 L313.22,140.70 L313.72,140.70 L314.21,140.70 L314.71,140.70 L315.20,140.70 L315.70,140.70 L316.19,140.70 L316.69,140.70 L317.18,140.70 L317.68,140.70 L318.17,140.70 L318.67,140.70 L319.16,140.70 L319.66,140.70 L320.15,140.70 L320.65,140.70 L321.15,140.70 L321.64,140.70 L322.14,140.70 L322.63,140.70 L323.13,140.70 L323.62,140.70 L324.12,140.70 L324.61,140.70 L325.11,140.70 L325.60,140.70 L326.10,140.70 L326.59,140.70 L327.09,140.70 L327.58,140.70 L328.08,140.70 L328.57,140.70 L329.07,140.70 L329.56,140.70 L330.06,140.70 L330.55,140.70 L331.05,140.70 L331.54,140.70 L332.04,140.70 L332.53,140.70 L333.03,140.70 L333.52,140.70 L334.02,140.70 L334.51,140.70 L335.01,140.70 L335.50,140.70 L336.00,140.70" fill="none" stroke="#8f0505" stroke-width="1.3" stroke-dasharray="4.5,2.3" stroke-dashoffset="0.32" stroke-linejoin="round"/>
<path d="M39.40,205.80 L39.90,205.80 L40.39,205.80 L40.89,205.80 L41.38,205.80 L41.88,205.80 L42.37,205.80 L42.87,205.80 L43.36,205.80 L43.86,205.80 L44.35,205.80 L44.85,205.80 L45.34,205.80 L45.84,205.80 L46.33,205.80 L46.83,205.80 L47.32,205.80 L47.82,205.80 L48.31,205.80 L48.81,205.80 L49.30,205.80 L49.80,205.80 L50.29,205.80 L50.79,205.80 L51.28,205.80 L51.78,205.80 L52.27,205.80 L52.77,205.80 L53.26,205.80 L53.76,205.80 L54.25,205.80 L54.75,205.80 L55.25,205.80 L55.74,205.80 L56.24,205.80 L56.73,205.80 L57.23,205.80 L57.72,205.80 L58.22,205.80 L58.71,205.80 L59.21,205.80 L59.70,205.80 L60.20,205.80 L60.69,205.80 L61.19,205.80 L61.68,205.80 L62.18,205.80 L62.67,205.80 L63.17,205.80 L63.66,205.80 L64.16,205.80 L64.65,205.80 L65.15,205.80 L65.64,205.80 L66.14,205.80 L66.63,205.80 L67.13,205.80 L67.62,205.80 L68.12,205.80 L68.61,205.80 L69.11,205.80 L69.60,205.80 L70.10,205.80 L70.59,205.80 L71.09,205.80 L71.59,205.80 L72.08,205.80 L72.58,205.80 L73.07,205.80 L73.57,205.80 L74.06,205.80 L74.56,205.80 L75.05,205.80 L75.55,205.80 L76.04,205.80 L76.54,205.80 L77.03,205.77 L77.53,205.69 L78.02,205.57 L78.52,205.42 L79.01,205.26 L79.51,205.10 L80.00,204.91 L80.50,204.68 L80.99,204.42 L81.49,204.10 L81.98,203.75 L82.48,203.35 L82.97,202.83 L83.47,202.20 L83.96,201.45 L84.46,200.58 L84.95,199.55 L85.45,198.24 L85.94,196.56 L86.44,194.13 L86.94,189.88 L87.43,184.81 L87.93,180.30 L88.42,176.68 L88.92,173.37 L89.41,170.17 L89.91,166.87 L90.40,163.27 L90.90,159.10 L91.39,154.28 L91.89,149.11 L92.38,143.91 L92.88,138.96 L93.37,134.59 L93.87,131.08 L94.36,128.31 L94.86,125.92 L95.35,123.71 L95.85,121.52 L96.34,119.51 L96.84,117.86 L97.33,116.40 L97.83,116.18 L98.32,116.68 L98.82,117.24 L99.31,117.85 L99.81,118.53 L100.30,119.23 L100.80,119.92 L101.29,120.64 L101.79,121.38 L102.29,122.13 L102.78,122.89 L103.28,123.65 L103.77,124.43 L104.27,125.23 L104.76,126.04 L105.26,126.84 L105.75,127.62 L106.25,128.37 L106.74,129.10 L107.24,129.81 L107.73,130.52 L108.23,131.21 L108.72,131.88 L109.22,132.53 L109.71,133.15 L110.21,133.75 L110.70,134.33 L111.20,134.90 L111.69,135.46 L112.19,136.00 L112.68,136.52 L113.18,137.03 L113.67,137.52 L114.17,137.98 L114.66,138.43 L115.16,138.85 L115.65,139.26 L116.15,139.66 L116.64,140.05 L117.14,140.42 L117.64,140.78 L118.13,141.13 L118.63,141.46 L119.12,141.78 L119.62,142.08 L120.11,142.36 L120.61,142.64 L121.10,142.90 L121.60,143.15 L122.09,143.40 L122.59,143.63 L123.08,143.86 L123.58,144.08 L124.07,144.30 L124.57,144.51 L125.06,144.72 L125.56,144.92 L126.05,145.12 L126.55,145.32 L127.04,145.52 L127.54,145.72 L128.03,145.94 L128.53,146.16 L129.02,146.39 L129.52,146.62 L130.01,146.85 L130.51,147.07 L131.00,147.28 L131.50,147.47 L131.99,147.64 L132.49,147.80 L132.98,147.92 L133.48,148.02 L133.98,148.08 L134.47,148.10 L134.97,148.08 L135.46,148.04 L135.96,147.96 L136.45,147.85 L136.95,147.73 L137.44,147.58 L137.94,147.42 L138.43,147.25 L138.93,147.07 L139.42,146.88 L139.92,146.70 L140.41,146.51 L140.91,146.33 L141.40,146.15 L141.90,145.94 L142.39,145.71 L142.89,145.46 L143.38,145.20 L143.88,144.93 L144.37,144.66 L144.87,144.38 L145.36,144.11 L145.86,143.85 L146.35,143.60 L146.85,143.36 L147.34,143.15 L147.84,142.96 L148.33,142.79 L148.83,142.62 L149.33,142.44 L149.82,142.27 L150.32,142.10 L150.81,141.94 L151.31,141.79 L151.80,141.64 L152.30,141.51 L152.79,141.39 L153.29,141.29 L153.78,141.21 L154.28,141.15 L154.77,141.11 L155.27,141.09 L155.76,141.08 L156.26,141.07 L156.75,141.06 L157.25,141.05 L157.74,141.04 L158.24,141.03 L158.73,141.03 L159.23,141.02 L159.72,141.01 L160.22,141.01 L160.71,141.01 L161.21,141.00 L161.70,141.00 L162.20,141.00 L162.69,141.01 L163.19,141.04 L163.68,141.09 L164.18,141.17 L164.68,141.26 L165.17,141.37 L165.67,141.49 L166.16,141.61 L166.66,141.74 L167.15,141.87 L167.65,141.99 L168.14,142.10 L168.64,142.21 L169.13,142.29 L169.63,142.36 L170.12,142.41 L170.62,142.45 L171.11,142.49 L171.61,142.52 L172.10,142.56 L172.60,142.59 L173.09,142.62 L173.59,142.65 L174.08,142.68 L174.58,142.71 L175.07,142.73 L175.57,142.76 L176.06,142.78 L176.56,142.80 L177.05,142.82 L177.55,142.84 L178.04,142.85 L178.54,142.87 L179.03,142.88 L179.53,142.89 L180.03,142.90 L180.52,142.91 L181.02,142.92 L181.51,142.92 L182.01,142.93 L182.50,142.94 L183.00,142.95 L183.49,142.95 L183.99,142.96 L184.48,142.96 L184.98,142.97 L185.47,142.98 L185.97,142.98 L186.46,142.98 L186.96,142.99 L187.45,142.99 L187.95,142.99 L188.44,143.00 L188.94,143.00 L189.43,143.00 L189.93,143.00 L190.42,143.00 L190.92,143.00 L191.41,143.00 L191.91,143.00 L192.40,142.99 L192.90,142.99 L193.39,142.99 L193.89,142.98 L194.38,142.98 L194.88,142.97 L195.37,142.97 L195.87,142.96 L196.37,142.95 L196.86,142.95 L197.36,142.94 L197.85,142.93 L198.35,142.93 L198.84,142.92 L199.34,142.91 L199.83,142.90 L200.33,142.89 L200.82,142.88 L201.32,142.87 L201.81,142.85 L202.31,142.83 L202.80,142.81 L203.30,142.79 L203.79,142.77 L204.29,142.74 L204.78,142.72 L205.28,142.69 L205.77,142.67 L206.27,142.64 L206.76,142.62 L207.26,142.59 L207.75,142.57 L208.25,142.55 L208.74,142.53 L209.24,142.52 L209.73,142.51 L210.23,142.50 L210.72,142.49 L211.22,142.48 L211.72,142.47 L212.21,142.46 L212.71,142.45 L213.20,142.45 L213.70,142.44 L214.19,142.43 L214.69,142.43 L215.18,142.42 L215.68,142.42 L216.17,142.41 L216.67,142.41 L217.16,142.40 L217.66,142.40 L218.15,142.39 L218.65,142.39 L219.14,142.38 L219.64,142.38 L220.13,142.37 L220.63,142.37 L221.12,142.36 L221.62,142.35 L222.11,142.35 L222.61,142.34 L223.10,142.33 L223.60,142.33 L224.09,142.32 L224.59,142.31 L225.08,142.30 L225.58,142.29 L226.07,142.27 L226.57,142.26 L227.07,142.25 L227.56,142.23 L228.06,142.21 L228.55,142.19 L229.05,142.17 L229.54,142.15 L230.04,142.13 L230.53,142.11 L231.03,142.09 L231.52,142.07 L232.02,142.05 L232.51,142.02 L233.01,142.00 L233.50,141.98 L234.00,141.95 L234.49,141.93 L234.99,141.91 L235.48,141.88 L235.98,141.86 L236.47,141.84 L236.97,141.82 L237.46,141.79 L237.96,141.77 L238.45,141.75 L238.95,141.74 L239.44,141.72 L239.94,141.70 L240.43,141.69 L240.93,141.67 L241.42,141.65 L241.92,141.64 L242.42,141.62 L242.91,141.60 L243.41,141.59 L243.90,141.57 L244.40,141.55 L244.89,141.54 L245.39,141.52 L245.88,141.50 L246.38,141.49 L246.87,141.47 L247.37,141.46 L247.86,141.44 L248.36,141.43 L248.85,141.41 L249.35,141.40 L249.84,141.39 L250.34,141.37 L250.83,141.36 L251.33,141.35 L251.82,141.34 L252.32,141.33 L252.81,141.32 L253.31,141.32 L253.80,141.31 L254.30,141.31 L254.79,141.30 L255.29,141.30 L255.78,141.30 L256.28,141.29 L256.77,141.29 L257.27,141.29 L257.76,141.29 L258.26,141.28 L258.76,141.28 L259.25,141.28 L259.75,141.28 L260.24,141.28 L260.74,141.28 L261.23,141.27 L261.73,141.27 L262.22,141.27 L262.72,141.27 L263.21,141.27 L263.71,141.27 L264.20,141.27 L264.70,141.27 L265.19,141.26 L265.69,141.26 L266.18,141.26 L266.68,141.26 L267.17,141.26 L267.67,141.26 L268.16,141.26 L268.66,141.25 L269.15,141.25 L269.65,141.25 L270.14,141.25 L270.64,141.25 L271.13,141.25 L271.63,141.24 L272.12,141.24 L272.62,141.24 L273.11,141.24 L273.61,141.23 L274.11,141.23 L274.60,141.23 L275.10,141.22 L275.59,141.22 L276.09,141.22 L276.58,141.22 L277.08,141.21 L277.57,141.21 L278.07,141.21 L278.56,141.20 L279.06,141.20 L279.55,141.20 L280.05,141.19 L280.54,141.19 L281.04,141.19 L281.53,141.18 L282.03,141.18 L282.52,141.18 L283.02,141.17 L283.51,141.17 L284.01,141.17 L284.50,141.16 L285.00,141.16 L285.49,141.16 L285.99,141.15 L286.48,141.15 L286.98,141.15 L287.47,141.14 L287.97,141.14 L288.46,141.14 L288.96,141.14 L289.46,141.13 L289.95,141.13 L290.45,141.13 L290.94,141.13 L291.44,141.12 L291.93,141.12 L292.43,141.12 L292.92,141.12 L293.42,141.11 L293.91,141.11 L294.41,141.11 L294.90,141.11 L295.40,141.11 L295.89,141.11 L296.39,141.10 L296.88,141.10 L297.38,141.10 L297.87,141.10 L298.37,141.10 L298.86,141.10 L299.36,141.10 L299.85,141.10 L300.35,141.10 L300.84,141.10 L301.34,141.10 L301.83,141.10 L302.33,141.10 L302.82,141.10 L303.32,141.10 L303.81,141.10 L304.31,141.10 L304.81,141.10 L305.30,141.10 L305.80,141.10 L306.29,141.10 L306.79,141.10 L307.28,141.10 L307.78,141.10 L308.27,141.10 L308.77,141.10 L309.26,141.10 L309.76,141.10 L310.25,141.10 L310.75,141.10 L311.24,141.10 L311.74,141.10 L312.23,141.10 L312.73,141.10 L313.22,141.10 L313.72,141.10 L314.21,141.10 L314.71,141.10 L315.20,141.10 L315.70,141.10 L316.19,141.10 L316.69,141.10 L317.18,141.10 L317.68,141.10 L318.17,141.10 L318.67,141.10 L319.16,141.10 L319.66,141.10 L320.15,141.10 L320.65,141.10 L321.15,141.10 L321.64,141.10 L322.14,141.10 L322.63,141.10 L323.13,141.10 L323.62,141.10 L324.12,141.10 L324.61,141.10 L325.11,141.10 L325.60,141.10 L326.10,141.10 L326.59,141.10 L327.09,141.10 L327.58,141.10 L328.08,141.10 L328.57,141.10 L329.07,141.10 L329.56,141.10 L330.06,141.10 L330.55,141.10 L331.05,141.10 L331.54,141.10 L332.04,141.10 L332.53,141.10 L333.03,141.10 L333.52,141.10 L334.02,141.10 L334.51,141.10 L335.01,141.10 L335.50,141.10 L336.00,141.10" fill="none" stroke="#1a9a9e" stroke-width="1.3" stroke-dasharray="4.5,2.3" stroke-linejoin="round"/>
</g>
<g stroke="#000" stroke-width="0.65" fill="none">
<path d="M39.4,205.8 H97" opacity="0.5"/>
<path d="M39.40,205.8 v6.2" stroke-width="1.3"/>
<path d="M96.40,205.8 v6.2" stroke-width="1.3"/>
<path d="M153.40,205.8 v6.2" stroke-width="1.3"/>
<path d="M210.40,205.8 v6.2" stroke-width="1.3"/>
<path d="M267.40,205.8 v6.2" stroke-width="1.3"/>
<path d="M324.40,205.8 v6.2" stroke-width="1.3"/>
<path d="M39.4,205.80 h-6.2" stroke-width="1.3"/>
<path d="M39.4,141.47 h-6.2" stroke-width="1.3"/>
<path d="M39.4,77.14 h-6.2" stroke-width="1.3"/>
<path d="M39.4,12.81 h-6.2" stroke-width="1.3"/>
</g>
<g font-family="'DejaVu Sans','Liberation Sans',sans-serif" fill="#000" stroke="#000" stroke-width="0.22">
<text x="39.40" y="226.1" font-size="15" text-anchor="middle">0.0</text>
<text x="96.40" y="226.1" font-size="15" text-anchor="middle">0.5</text>
<text x="153.40" y="226.1" font-size="15" text-anchor="middle">1.0</text>
<text x="210.40" y="226.1" font-size="15" text-anchor="middle">1.5</text>
<text x="267.40" y="226.1" font-size="15" text-anchor="middle">2.0</text>
<text x="324.40" y="226.1" font-size="15" text-anchor="middle">2.5</text>
<text x="30.6" y="211.55" font-size="15" text-anchor="end">0</text>
<text x="30.6" y="147.67" font-size="15" text-anchor="end">1</text>
<text x="30.6" y="83.34" font-size="15" text-anchor="end">2</text>
<text x="30.6" y="19.16" font-size="15" text-anchor="end">3</text>
<text x="186.8" y="244.5" font-size="18" text-anchor="middle"><tspan font-style="italic">r</tspan> / nm</text>
<text transform="translate(13.7,105.4) rotate(-90)" font-size="18" text-anchor="middle"><tspan font-style="italic">g</tspan>(<tspan font-style="italic">r</tspan>)</text>
<path d="M167.4,16.20 H192.3" stroke="#ff0000" stroke-width="1.3"/>
<text x="202.3" y="20.25" font-size="12">Ring - Ring</text>
<path d="M167.4,33.90 H192.3" stroke="#008000" stroke-width="1.3"/>
<text x="202.3" y="37.95" font-size="12">Anion - Anion</text>
<path d="M167.4,51.60 H192.3" stroke="#0000ff" stroke-width="1.3"/>
<text x="202.3" y="55.65" font-size="12">Ring - Anion</text>
<path d="M167.4,69.30 H192.3" stroke="#8f0505" stroke-width="1.3"/>
<text x="202.3" y="73.35" font-size="12">Polar - Polar</text>
<path d="M167.4,87.00 H192.3" stroke="#1a9a9e" stroke-width="1.3"/>
<text x="202.3" y="91.05" font-size="12">Nonpolar - Nonpolar</text>
</g>
</svg>
</body></html>
